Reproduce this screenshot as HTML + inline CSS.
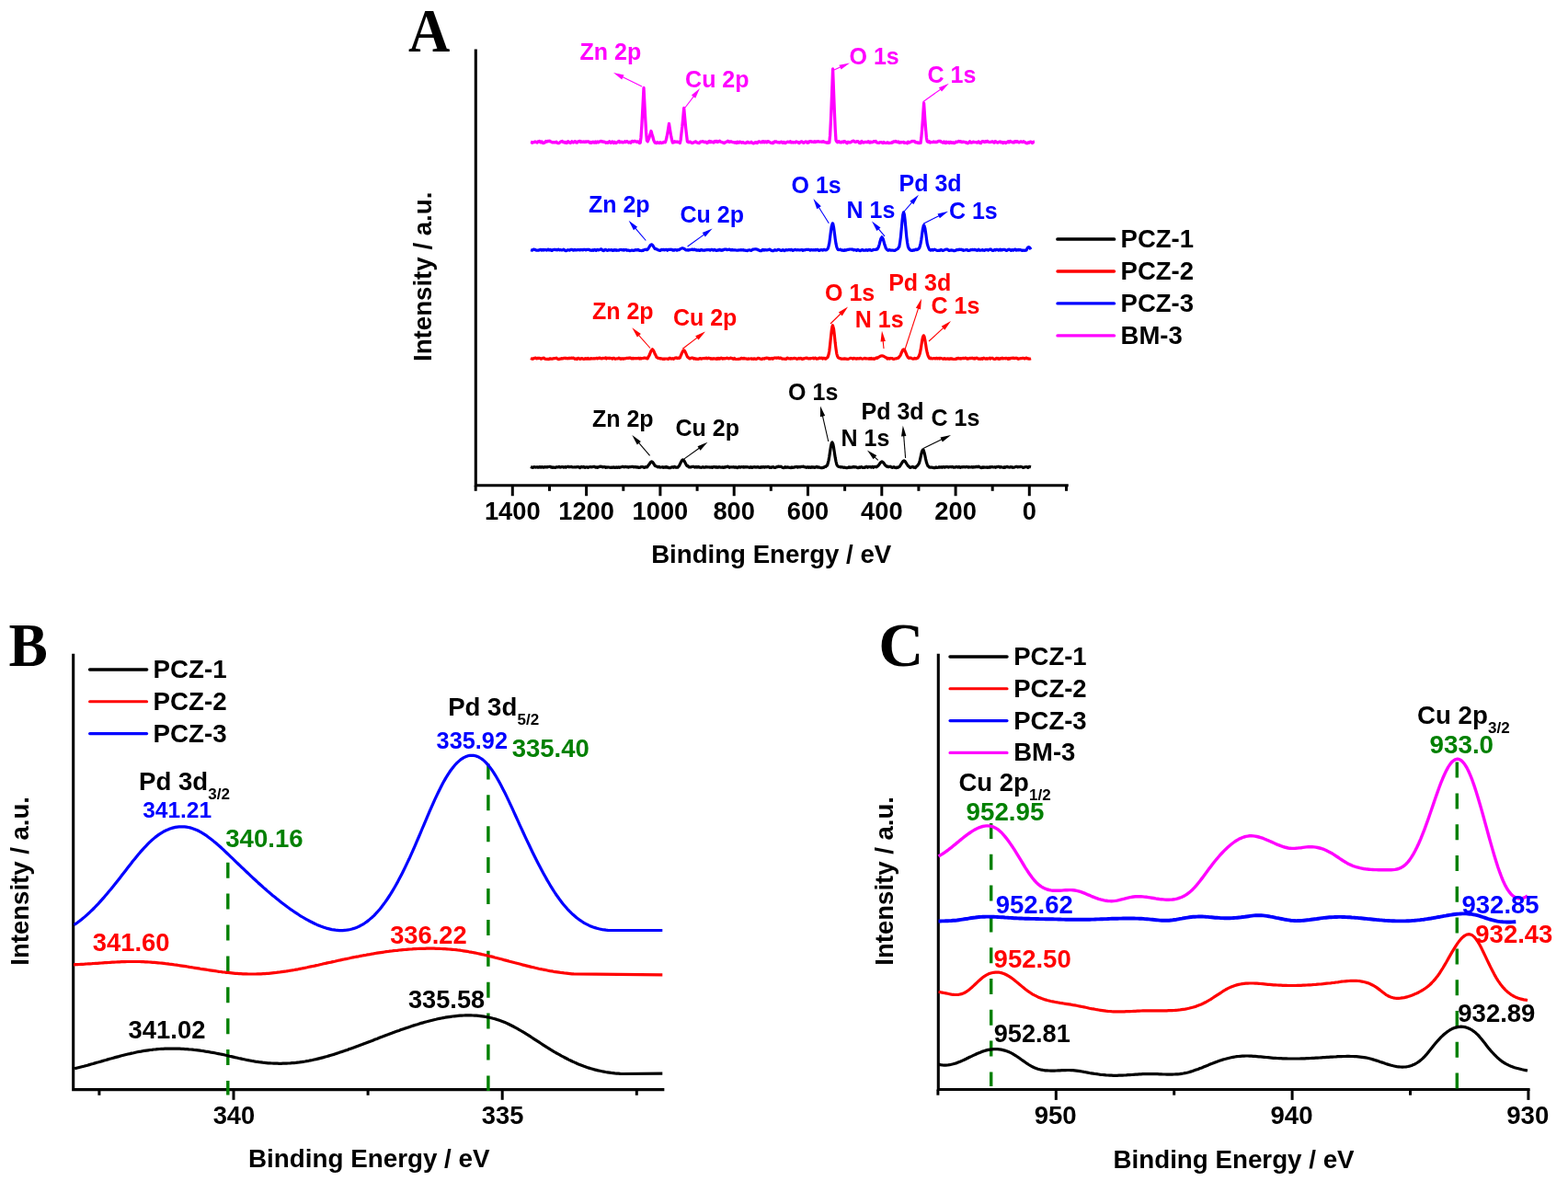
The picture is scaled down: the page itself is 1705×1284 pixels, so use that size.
<!DOCTYPE html>
<html lang="en">
<head>
<meta charset="utf-8">
<title>XPS spectra of PCZ-1, PCZ-2, PCZ-3 and BM-3</title>
<style>
html,body{margin:0;padding:0;background:#fff;}
body{width:1705px;height:1284px;overflow:hidden;}
svg{display:block;}
svg text{font-family:"Liberation Sans", sans-serif;font-weight:bold;}
svg text.panel{font-family:"Liberation Serif", serif;font-weight:bold;}
</style>
</head>
<body>
<svg width="1705" height="1284" viewBox="0 0 1705 1284">
<rect x="0" y="0" width="1705" height="1284" fill="#ffffff"/>
<g id="panelA">
<text class="panel" transform="translate(444.0 56.2) scale(0.93 1.0)" font-size="67.5">A</text>
<path d="M517.3,55V527.8H1160.2" fill="none" stroke="#000" stroke-width="3.1" stroke-linecap="square"/>
<line x1="517.2" y1="527.8" x2="517.2" y2="533.8" stroke="#000" stroke-width="3"/>
<line x1="557.3" y1="527.8" x2="557.3" y2="539.2" stroke="#000" stroke-width="3"/>
<text x="557.3" y="565.3" font-size="27.3" fill="#000" text-anchor="middle">1400</text>
<line x1="597.5" y1="527.8" x2="597.5" y2="533.8" stroke="#000" stroke-width="3"/>
<line x1="637.6" y1="527.8" x2="637.6" y2="539.2" stroke="#000" stroke-width="3"/>
<text x="637.6" y="565.3" font-size="27.3" fill="#000" text-anchor="middle">1200</text>
<line x1="677.8" y1="527.8" x2="677.8" y2="533.8" stroke="#000" stroke-width="3"/>
<line x1="717.9" y1="527.8" x2="717.9" y2="539.2" stroke="#000" stroke-width="3"/>
<text x="717.9" y="565.3" font-size="27.3" fill="#000" text-anchor="middle">1000</text>
<line x1="758.1" y1="527.8" x2="758.1" y2="533.8" stroke="#000" stroke-width="3"/>
<line x1="798.2" y1="527.8" x2="798.2" y2="539.2" stroke="#000" stroke-width="3"/>
<text x="798.2" y="565.3" font-size="27.3" fill="#000" text-anchor="middle">800</text>
<line x1="838.3" y1="527.8" x2="838.3" y2="533.8" stroke="#000" stroke-width="3"/>
<line x1="878.5" y1="527.8" x2="878.5" y2="539.2" stroke="#000" stroke-width="3"/>
<text x="878.5" y="565.3" font-size="27.3" fill="#000" text-anchor="middle">600</text>
<line x1="918.6" y1="527.8" x2="918.6" y2="533.8" stroke="#000" stroke-width="3"/>
<line x1="958.8" y1="527.8" x2="958.8" y2="539.2" stroke="#000" stroke-width="3"/>
<text x="958.8" y="565.3" font-size="27.3" fill="#000" text-anchor="middle">400</text>
<line x1="998.9" y1="527.8" x2="998.9" y2="533.8" stroke="#000" stroke-width="3"/>
<line x1="1039.1" y1="527.8" x2="1039.1" y2="539.2" stroke="#000" stroke-width="3"/>
<text x="1039.1" y="565.3" font-size="27.3" fill="#000" text-anchor="middle">200</text>
<line x1="1079.2" y1="527.8" x2="1079.2" y2="533.8" stroke="#000" stroke-width="3"/>
<line x1="1119.3" y1="527.8" x2="1119.3" y2="539.2" stroke="#000" stroke-width="3"/>
<text x="1119.3" y="565.3" font-size="27.3" fill="#000" text-anchor="middle">0</text>
<line x1="1159.5" y1="527.8" x2="1159.5" y2="533.8" stroke="#000" stroke-width="3"/>
<text x="838.7" y="612.4" font-size="27.65" fill="#000" text-anchor="middle">Binding Energy / eV</text>
<text transform="translate(469.0 300.8) rotate(-90)" font-size="27.65" fill="#000" text-anchor="middle">Intensity / a.u.</text>
<path d="M577.0,154.4L577.8,154.6L578.6,155.3L579.4,154.8L580.2,154.6L581.0,154.7L581.8,154.0L582.6,154.3L583.4,154.6L584.2,155.1L585.0,154.0L585.8,153.9L586.6,153.5L587.4,154.6L588.2,154.9L589.0,153.9L589.8,155.1L590.6,155.6L591.4,155.3L592.2,155.1L593.0,154.1L593.8,153.5L594.6,154.1L595.4,153.5L596.2,153.5L597.0,153.6L597.8,153.2L598.6,153.9L599.4,154.1L600.2,154.9L601.0,154.7L601.8,154.9L602.6,154.7L603.4,154.9L604.2,154.6L605.0,154.1L605.8,155.2L606.6,155.7L607.4,155.7L608.2,155.4L609.0,154.6L609.8,154.0L610.6,153.9L611.4,153.5L612.2,154.5L613.0,154.3L613.8,155.0L614.6,154.5L615.4,155.3L616.2,155.5L617.0,154.1L617.8,153.8L618.6,154.9L619.4,154.6L620.2,155.4L621.0,154.7L621.8,153.8L622.6,154.4L623.4,155.0L624.2,154.3L625.0,153.7L625.8,153.8L626.6,155.0L627.4,155.2L628.2,154.1L629.0,153.9L629.8,153.5L630.6,153.3L631.4,154.5L632.2,153.9L633.0,154.3L633.8,154.3L634.6,153.9L635.4,154.6L636.2,153.9L637.0,154.5L637.8,153.8L638.6,154.0L639.4,153.8L640.2,153.8L641.0,155.0L641.8,155.3L642.6,154.5L643.4,155.2L644.2,154.3L645.0,154.2L645.8,155.0L646.6,155.0L647.4,154.0L648.2,155.2L649.0,154.3L649.8,154.0L650.6,154.8L651.4,154.3L652.2,154.0L653.0,153.5L653.8,153.3L654.6,154.1L655.4,153.9L656.2,154.4L657.0,154.2L657.8,154.3L658.6,155.2L659.4,154.8L660.2,154.8L661.0,155.3L661.8,154.3L662.6,153.8L663.4,154.9L664.2,155.3L665.0,154.4L665.8,153.9L666.6,154.7L667.4,155.4L668.2,154.3L669.0,155.2L669.8,155.5L670.6,155.1L671.4,154.6L672.2,153.9L673.0,153.4L673.8,154.8L674.6,154.2L675.4,154.7L676.2,154.2L677.0,154.9L677.8,154.9L678.6,154.3L679.4,153.8L680.2,154.6L681.0,153.8L681.8,153.7L682.6,154.2L683.4,155.0L684.2,154.9L685.0,154.3L685.8,155.2L686.6,154.3L687.4,153.5L688.2,153.6L689.0,154.0L689.8,153.5L690.6,153.5L691.4,153.8L692.2,154.3L693.0,153.8L693.8,153.9L694.6,154.9L695.4,155.6L696.2,155.3L697.0,149.2L697.8,137.1L698.6,122.8L699.4,107.6L700.0,95.5L701.0,115.4L701.8,130.4L702.6,143.9L703.4,152.8L704.2,153.9L705.0,152.0L705.8,150.2L706.6,147.3L707.4,144.6L708.0,142.5L709.0,146.0L709.8,148.5L710.6,151.8L711.4,153.8L712.2,155.2L713.0,155.4L713.8,155.6L714.6,154.7L715.4,154.9L716.2,155.4L717.0,155.6L717.8,154.8L718.6,155.2L719.4,155.5L720.2,155.1L721.0,155.0L721.8,154.5L722.6,154.7L723.4,154.8L724.2,152.3L725.0,149.3L725.8,145.0L726.6,140.3L727.5,134.5L728.2,139.0L729.0,143.9L729.8,148.7L730.6,152.2L731.4,155.1L732.2,154.0L733.0,154.7L733.8,153.8L734.6,154.4L735.4,154.4L736.2,154.0L737.0,154.6L737.8,154.5L738.6,154.7L739.4,155.4L740.2,151.8L741.0,144.6L741.8,138.0L742.6,129.8L743.7,117.5L744.2,123.2L745.0,131.9L745.8,140.4L746.6,147.3L747.4,153.9L748.2,154.5L749.0,154.8L749.8,154.1L750.6,154.2L751.4,154.9L752.2,155.4L753.0,155.6L753.8,154.8L754.6,154.8L755.4,154.3L756.2,153.8L757.0,154.2L757.8,155.0L758.6,155.3L759.4,155.3L760.2,155.6L761.0,154.6L761.8,154.0L762.6,154.2L763.4,153.9L764.2,153.7L765.0,154.0L765.8,154.5L766.6,154.5L767.4,154.2L768.2,155.0L769.0,155.6L769.8,154.9L770.6,153.9L771.4,153.4L772.2,154.7L773.0,153.8L773.8,154.5L774.6,154.6L775.4,154.2L776.2,154.9L777.0,153.8L777.8,153.5L778.6,154.0L779.4,153.4L780.2,154.6L781.0,154.1L781.8,153.7L782.6,153.3L783.4,154.2L784.2,154.3L785.0,154.6L785.8,154.8L786.6,155.2L787.4,155.6L788.2,155.3L789.0,154.3L789.8,154.4L790.6,153.9L791.4,153.3L792.2,153.9L793.0,154.6L793.8,154.0L794.6,153.9L795.4,153.9L796.2,154.6L797.0,154.6L797.8,154.7L798.6,155.1L799.4,154.6L800.2,155.1L801.0,155.5L801.8,154.2L802.6,155.1L803.4,155.2L804.2,154.1L805.0,154.3L805.8,154.6L806.6,155.3L807.4,154.6L808.2,154.7L809.0,155.3L809.8,155.4L810.6,155.7L811.4,155.0L812.2,155.0L813.0,154.2L813.8,154.8L814.6,155.2L815.4,155.1L816.2,155.1L817.0,154.3L817.8,155.1L818.6,155.6L819.4,155.9L820.2,155.2L821.0,155.3L821.8,154.6L822.6,155.3L823.4,155.5L824.2,154.7L825.0,153.8L825.8,154.1L826.6,154.4L827.4,154.9L828.2,154.7L829.0,153.7L829.8,154.7L830.6,153.8L831.4,154.7L832.2,154.0L833.0,154.0L833.8,154.8L834.6,154.0L835.4,153.6L836.2,154.1L837.0,154.7L837.8,155.2L838.6,155.2L839.4,155.6L840.2,155.0L841.0,155.5L841.8,154.2L842.6,153.9L843.4,154.3L844.2,154.0L845.0,154.7L845.8,154.8L846.6,154.7L847.4,155.2L848.2,154.9L849.0,154.4L849.8,154.2L850.6,155.0L851.4,155.4L852.2,154.4L853.0,155.1L853.8,155.6L854.6,155.0L855.4,154.9L856.2,154.1L857.0,154.4L857.8,154.5L858.6,154.7L859.4,153.7L860.2,155.0L861.0,154.8L861.8,154.4L862.6,155.0L863.4,154.8L864.2,154.6L865.0,154.9L865.8,153.9L866.6,154.3L867.4,154.3L868.2,155.2L869.0,155.6L869.8,154.6L870.6,154.5L871.4,153.8L872.2,154.1L873.0,154.9L873.8,155.4L874.6,154.9L875.4,154.3L876.2,153.9L877.0,154.4L877.8,155.2L878.6,154.2L879.4,154.9L880.2,153.8L881.0,153.6L881.8,153.6L882.6,154.4L883.4,154.2L884.2,154.1L885.0,154.5L885.8,153.8L886.6,154.6L887.4,153.9L888.2,154.2L889.0,153.9L889.8,153.7L890.6,154.2L891.4,154.2L892.2,154.2L893.0,154.2L893.8,154.4L894.6,153.8L895.4,153.7L896.2,154.4L897.0,154.7L897.8,154.6L898.6,155.2L899.4,155.0L900.2,155.4L901.0,154.4L901.8,154.9L902.6,147.2L903.4,131.5L904.2,111.8L905.0,91.3L905.6,75.0L906.6,101.8L907.4,122.2L908.2,140.0L909.0,152.5L909.8,153.9L910.6,154.7L911.4,154.1L912.2,153.6L913.0,154.7L913.8,154.4L914.6,155.0L915.4,154.1L916.2,154.1L917.0,154.7L917.8,153.7L918.6,153.6L919.4,154.4L920.2,155.2L921.0,155.7L921.8,154.3L922.6,154.4L923.4,154.9L924.2,154.7L925.0,154.9L925.8,154.1L926.6,153.6L927.4,153.4L928.2,153.2L929.0,154.0L929.8,154.3L930.6,154.5L931.4,153.9L932.2,153.7L933.0,153.6L933.8,154.7L934.6,155.5L935.4,155.7L936.2,154.3L937.0,153.6L937.8,154.9L938.6,154.6L939.4,155.0L940.2,154.4L941.0,154.4L941.8,154.5L942.6,154.4L943.4,154.6L944.2,153.7L945.0,154.5L945.8,155.1L946.6,154.2L947.4,154.3L948.2,154.8L949.0,154.5L949.8,153.9L950.6,153.6L951.4,154.1L952.2,153.5L953.0,154.7L953.8,155.2L954.6,155.2L955.4,155.4L956.2,155.2L957.0,154.6L957.8,154.7L958.6,154.6L959.4,155.4L960.2,155.5L961.0,154.5L961.8,155.2L962.6,155.3L963.4,155.3L964.2,155.4L965.0,154.8L965.8,155.3L966.6,155.6L967.4,155.3L968.2,155.4L969.0,155.4L969.8,154.7L970.6,155.0L971.4,154.0L972.2,154.0L973.0,154.2L973.8,153.5L974.6,153.8L975.4,154.4L976.2,154.7L977.0,154.1L977.8,155.1L978.6,155.1L979.4,154.5L980.2,154.8L981.0,154.7L981.8,154.7L982.6,154.4L983.4,155.3L984.2,155.1L985.0,155.1L985.8,155.3L986.6,155.7L987.4,154.2L988.2,154.6L989.0,155.0L989.8,154.3L990.6,154.2L991.4,153.6L992.2,153.5L993.0,153.8L993.8,153.5L994.6,153.6L995.4,154.8L996.2,154.7L997.0,154.6L997.8,155.4L998.6,155.0L999.4,155.6L1000.2,155.3L1001.0,155.4L1001.8,149.6L1002.6,140.8L1003.4,130.0L1004.6,112.0L1005.8,130.0L1006.6,140.4L1007.4,149.7L1008.2,153.8L1009.0,154.2L1009.8,154.6L1010.6,153.7L1011.4,155.0L1012.2,154.6L1013.0,154.6L1013.8,154.7L1014.6,154.4L1015.4,154.0L1016.2,154.6L1017.0,154.6L1017.8,154.2L1018.6,154.7L1019.4,154.2L1020.2,153.5L1021.0,153.6L1021.8,153.3L1022.6,153.3L1023.4,154.4L1024.2,154.3L1025.0,155.1L1025.8,155.2L1026.6,154.0L1027.4,155.2L1028.2,155.6L1029.0,154.2L1029.8,155.1L1030.6,154.6L1031.4,154.5L1032.2,155.4L1033.0,154.4L1033.8,154.5L1034.6,155.3L1035.4,155.3L1036.2,154.8L1037.0,155.5L1037.8,155.5L1038.6,155.1L1039.4,154.1L1040.2,154.5L1041.0,154.4L1041.8,153.9L1042.6,153.4L1043.4,154.1L1044.2,153.6L1045.0,154.0L1045.8,154.6L1046.6,154.5L1047.4,154.1L1048.2,154.4L1049.0,154.3L1049.8,154.9L1050.6,154.7L1051.4,155.5L1052.2,155.8L1053.0,155.5L1053.8,154.5L1054.6,153.8L1055.4,154.9L1056.2,155.2L1057.0,155.0L1057.8,154.5L1058.6,154.1L1059.4,154.6L1060.2,154.7L1061.0,154.7L1061.8,154.9L1062.6,155.1L1063.4,154.2L1064.2,153.9L1065.0,155.1L1065.8,155.5L1066.6,155.6L1067.4,154.2L1068.2,153.6L1069.0,153.7L1069.8,154.0L1070.6,154.5L1071.4,153.8L1072.2,154.3L1073.0,153.6L1073.8,153.4L1074.6,154.3L1075.4,154.5L1076.2,154.7L1077.0,154.4L1077.8,154.4L1078.6,153.9L1079.4,154.0L1080.2,154.7L1081.0,155.2L1081.8,154.0L1082.6,153.6L1083.4,154.7L1084.2,154.8L1085.0,155.1L1085.8,154.3L1086.6,154.3L1087.4,154.0L1088.2,154.8L1089.0,154.4L1089.8,154.7L1090.6,155.5L1091.4,154.6L1092.2,154.6L1093.0,155.0L1093.8,155.5L1094.6,154.8L1095.4,154.4L1096.2,153.7L1097.0,154.8L1097.8,153.9L1098.6,153.5L1099.4,154.2L1100.2,154.3L1101.0,154.8L1101.8,154.3L1102.6,154.9L1103.4,153.9L1104.2,153.7L1105.0,154.4L1105.8,153.7L1106.6,153.8L1107.4,154.6L1108.2,154.9L1109.0,154.3L1109.8,153.8L1110.6,153.9L1111.4,154.6L1112.2,154.3L1113.0,153.7L1113.8,154.5L1114.6,154.6L1115.4,155.3L1116.2,155.7L1117.0,155.8L1117.8,155.0L1118.6,155.3L1119.4,154.5L1120.2,154.2L1121.0,154.2L1121.8,155.1L1122.6,155.5L1123.4,154.5L1124.2,154.2L1125.0,154.1" fill="none" stroke="#ff00ff" stroke-width="3.3" stroke-linejoin="round" stroke-linecap="butt"/>
<path d="M577.0,271.8L577.8,272.0L578.6,272.1L579.4,271.5L580.2,271.1L581.0,271.3L581.8,271.3L582.6,272.0L583.4,272.1L584.2,272.1L585.0,272.0L585.8,272.1L586.6,271.5L587.4,271.6L588.2,271.3L589.0,272.1L589.8,271.4L590.6,272.0L591.4,271.4L592.2,271.8L593.0,271.6L593.8,271.6L594.6,272.1L595.4,271.4L596.2,271.1L597.0,272.0L597.8,271.9L598.6,271.3L599.4,272.2L600.2,272.5L601.0,271.7L601.8,271.6L602.6,271.3L603.4,271.3L604.2,271.7L605.0,271.4L605.8,271.8L606.6,271.3L607.4,271.2L608.2,271.9L609.0,271.7L609.8,271.7L610.6,271.9L611.4,271.8L612.2,271.7L613.0,271.2L613.8,271.8L614.6,272.4L615.4,272.6L616.2,272.4L617.0,271.9L617.8,271.7L618.6,272.0L619.4,272.1L620.2,271.5L621.0,271.3L621.8,271.4L622.6,271.6L623.4,272.1L624.2,271.9L625.0,271.3L625.8,272.0L626.6,271.8L627.4,271.8L628.2,271.5L629.0,271.6L629.8,271.6L630.6,272.0L631.4,271.4L632.2,271.7L633.0,271.4L633.8,271.8L634.6,271.3L635.4,271.3L636.2,271.4L637.0,271.8L637.8,271.3L638.6,271.5L639.4,271.3L640.2,271.3L641.0,271.6L641.8,272.2L642.6,272.0L643.4,272.4L644.2,271.7L645.0,272.3L645.8,271.8L646.6,271.4L647.4,271.9L648.2,272.4L649.0,271.5L649.8,271.4L650.6,271.9L651.4,271.7L652.2,271.4L653.0,271.0L653.8,270.9L654.6,271.5L655.4,272.3L656.2,272.6L657.0,272.2L657.8,271.4L658.6,271.4L659.4,272.0L660.2,272.3L661.0,272.2L661.8,271.6L662.6,271.8L663.4,271.8L664.2,271.9L665.0,271.6L665.8,272.2L666.6,272.5L667.4,271.7L668.2,271.5L669.0,272.1L669.8,271.7L670.6,272.3L671.4,272.0L672.2,272.1L673.0,272.2L673.8,271.6L674.6,271.5L675.4,271.4L676.2,271.8L677.0,272.0L677.8,271.5L678.6,272.1L679.4,271.8L680.2,271.5L681.0,271.6L681.8,272.3L682.6,272.1L683.4,272.1L684.2,272.4L685.0,272.6L685.8,272.5L686.6,272.0L687.4,272.0L688.2,272.4L689.0,272.4L689.8,272.2L690.6,271.8L691.4,271.6L692.2,272.0L693.0,272.0L693.8,271.3L694.6,271.8L695.4,272.3L696.2,272.4L697.0,272.5L697.8,272.6L698.6,272.2L699.4,272.3L700.2,271.9L701.0,271.3L701.8,271.4L702.6,271.2L703.4,271.7L704.2,271.2L705.0,270.2L705.8,268.8L706.6,267.5L707.4,266.4L708.4,265.8L709.0,266.0L709.8,266.9L710.6,268.2L711.4,269.4L712.2,270.5L713.0,270.7L713.8,270.8L714.6,271.2L715.4,271.8L716.2,272.1L717.0,272.1L717.8,272.5L718.6,271.9L719.4,271.3L720.2,271.6L721.0,271.6L721.8,271.3L722.6,271.8L723.4,271.6L724.2,271.4L725.0,271.4L725.8,272.2L726.6,271.4L727.4,271.4L728.2,271.4L729.0,271.2L729.8,271.5L730.6,271.3L731.4,272.1L732.2,271.9L733.0,272.1L733.8,271.5L734.6,271.6L735.4,271.8L736.2,272.2L737.0,271.6L737.8,271.5L738.6,271.7L739.4,270.9L740.2,270.5L741.0,270.0L742.0,269.8L742.6,269.9L743.4,270.2L744.2,270.7L745.0,271.2L745.8,271.9L746.6,272.0L747.4,271.7L748.2,272.1L749.0,271.7L749.8,271.8L750.6,271.6L751.4,271.5L752.2,271.2L753.0,271.2L753.8,271.6L754.6,271.4L755.4,271.1L756.2,271.8L757.0,271.6L757.8,272.2L758.6,272.1L759.4,271.8L760.2,272.2L761.0,272.5L761.8,271.9L762.6,271.4L763.4,271.8L764.2,272.2L765.0,272.1L765.8,272.3L766.6,271.9L767.4,272.0L768.2,271.6L769.0,271.6L769.8,271.6L770.6,271.6L771.4,271.6L772.2,272.1L773.0,271.5L773.8,271.3L774.6,271.3L775.4,272.1L776.2,272.0L777.0,271.3L777.8,272.0L778.6,272.3L779.4,272.4L780.2,271.9L781.0,272.1L781.8,271.7L782.6,271.3L783.4,272.0L784.2,272.3L785.0,271.7L785.8,272.2L786.6,271.4L787.4,271.4L788.2,271.0L789.0,271.1L789.8,271.1L790.6,271.7L791.4,271.5L792.2,271.3L793.0,271.2L793.8,271.3L794.6,272.0L795.4,272.0L796.2,271.4L797.0,271.9L797.8,271.9L798.6,271.8L799.4,271.8L800.2,272.0L801.0,272.2L801.8,272.0L802.6,272.1L803.4,271.9L804.2,272.0L805.0,271.8L805.8,271.7L806.6,271.8L807.4,272.0L808.2,271.6L809.0,272.2L809.8,272.0L810.6,272.3L811.4,272.3L812.2,272.6L813.0,272.4L813.8,272.0L814.6,271.8L815.4,271.9L816.2,272.2L817.0,272.4L817.8,271.6L818.6,271.2L819.4,271.1L820.2,271.0L821.0,270.9L821.8,270.8L822.6,271.1L823.4,271.0L824.2,271.7L825.0,271.9L825.8,272.4L826.6,272.6L827.4,272.5L828.2,272.6L829.0,271.6L829.8,271.4L830.6,272.1L831.4,271.9L832.2,271.5L833.0,272.0L833.8,271.8L834.6,271.8L835.4,271.6L836.2,271.4L837.0,271.1L837.8,271.6L838.6,272.3L839.4,272.6L840.2,272.5L841.0,272.6L841.8,272.0L842.6,271.7L843.4,272.2L844.2,272.1L845.0,272.1L845.8,271.4L846.6,271.3L847.4,271.5L848.2,272.0L849.0,272.3L849.8,272.3L850.6,271.8L851.4,271.7L852.2,272.2L853.0,272.6L853.8,272.1L854.6,271.6L855.4,271.8L856.2,271.9L857.0,271.7L857.8,271.4L858.6,271.5L859.4,271.8L860.2,271.3L861.0,271.6L861.8,272.3L862.6,272.3L863.4,271.7L864.2,271.7L865.0,271.3L865.8,271.8L866.6,272.0L867.4,271.5L868.2,271.7L869.0,271.9L869.8,271.9L870.6,271.7L871.4,271.5L872.2,271.5L873.0,272.3L873.8,271.8L874.6,271.8L875.4,271.8L876.2,271.4L877.0,271.5L877.8,271.3L878.6,271.4L879.4,271.4L880.2,271.5L881.0,272.2L881.8,271.7L882.6,271.6L883.4,271.9L884.2,271.7L885.0,271.8L885.8,272.0L886.6,271.4L887.4,271.8L888.2,271.3L889.0,271.3L889.8,271.9L890.6,272.5L891.4,272.3L892.2,271.6L893.0,271.7L893.8,271.5L894.6,272.1L895.4,271.6L896.2,271.3L897.0,271.7L897.8,271.9L898.6,271.7L899.4,271.1L900.2,270.4L901.0,267.7L901.8,264.2L902.6,258.1L903.4,251.8L904.2,246.2L905.3,242.8L905.8,243.5L906.6,247.4L907.4,253.4L908.2,259.6L909.0,264.9L909.8,268.5L910.6,270.5L911.4,271.5L912.2,271.6L913.0,271.5L913.8,271.1L914.6,272.0L915.4,272.2L916.2,271.9L917.0,272.4L917.8,272.5L918.6,271.7L919.4,272.2L920.2,271.9L921.0,271.6L921.8,271.4L922.6,271.5L923.4,271.1L924.2,271.0L925.0,271.0L925.8,271.2L926.6,271.1L927.4,271.0L928.2,271.9L929.0,271.7L929.8,271.7L930.6,271.9L931.4,272.4L932.2,271.6L933.0,271.4L933.8,272.1L934.6,272.4L935.4,272.6L936.2,272.2L937.0,271.8L937.8,271.4L938.6,272.1L939.4,272.3L940.2,272.1L941.0,272.3L941.8,271.7L942.6,271.8L943.4,272.3L944.2,271.6L945.0,271.8L945.8,271.4L946.6,272.0L947.4,272.3L948.2,272.2L949.0,271.9L949.8,271.3L950.6,271.5L951.4,271.5L952.2,271.4L953.0,270.8L953.8,271.2L954.6,270.0L955.4,268.3L956.2,265.6L957.0,262.5L957.8,259.7L959.0,257.8L960.2,259.7L961.0,262.5L961.8,265.6L962.6,267.8L963.4,270.1L964.2,271.1L965.0,271.7L965.8,272.4L966.6,271.7L967.4,271.7L968.2,272.1L969.0,272.2L969.8,272.0L970.6,272.2L971.4,272.2L972.2,272.4L973.0,272.3L973.8,271.8L974.6,271.5L975.4,271.0L976.2,270.5L977.0,269.3L977.8,268.2L978.6,263.6L979.4,257.6L980.2,249.2L981.0,240.3L981.8,233.4L982.6,230.8L983.4,233.4L984.2,240.3L985.0,249.2L985.8,257.6L986.6,263.8L987.4,268.2L988.2,270.0L989.0,271.2L989.8,271.8L990.6,272.2L991.4,272.4L992.2,272.4L993.0,271.8L993.8,272.1L994.6,271.9L995.4,271.4L996.2,271.0L997.0,271.6L997.8,271.3L998.6,270.6L999.4,270.0L1000.2,268.2L1001.0,264.9L1001.8,260.5L1002.6,254.7L1003.4,249.1L1004.2,245.5L1004.7,244.8L1005.8,248.0L1006.6,253.2L1007.4,259.1L1008.2,264.7L1009.0,267.5L1009.8,269.6L1010.6,271.4L1011.4,271.9L1012.2,272.1L1013.0,271.6L1013.8,271.3L1014.6,272.1L1015.4,271.4L1016.2,271.2L1017.0,271.5L1017.8,272.0L1018.6,272.1L1019.4,272.5L1020.2,272.5L1021.0,272.0L1021.8,272.4L1022.6,271.8L1023.4,271.3L1024.2,272.1L1025.0,272.4L1025.8,272.3L1026.6,272.0L1027.4,271.5L1028.2,271.3L1029.0,271.1L1029.8,271.0L1030.6,271.4L1031.4,272.1L1032.2,272.5L1033.0,272.1L1033.8,272.1L1034.6,271.9L1035.4,272.2L1036.2,272.2L1037.0,272.6L1037.8,272.6L1038.6,272.4L1039.4,272.2L1040.2,271.6L1041.0,271.7L1041.8,271.7L1042.6,271.3L1043.4,271.2L1044.2,271.4L1045.0,271.2L1045.8,271.7L1046.6,271.5L1047.4,272.3L1048.2,272.2L1049.0,272.0L1049.8,271.8L1050.6,271.7L1051.4,271.4L1052.2,272.2L1053.0,272.5L1053.8,272.3L1054.6,272.2L1055.4,271.6L1056.2,271.7L1057.0,271.4L1057.8,271.4L1058.6,271.7L1059.4,271.4L1060.2,271.3L1061.0,271.8L1061.8,271.8L1062.6,272.3L1063.4,271.6L1064.2,271.2L1065.0,272.1L1065.8,272.0L1066.6,272.1L1067.4,272.0L1068.2,271.5L1069.0,272.2L1069.8,272.0L1070.6,272.4L1071.4,271.6L1072.2,271.5L1073.0,271.7L1073.8,271.5L1074.6,272.1L1075.4,271.6L1076.2,271.2L1077.0,271.1L1077.8,271.2L1078.6,272.1L1079.4,272.4L1080.2,272.3L1081.0,271.9L1081.8,271.3L1082.6,272.0L1083.4,271.4L1084.2,271.3L1085.0,271.5L1085.8,272.1L1086.6,271.6L1087.4,271.2L1088.2,272.0L1089.0,271.3L1089.8,271.9L1090.6,271.4L1091.4,271.4L1092.2,271.3L1093.0,271.5L1093.8,272.2L1094.6,272.4L1095.4,272.1L1096.2,271.4L1097.0,271.2L1097.8,271.3L1098.6,271.9L1099.4,272.4L1100.2,271.5L1101.0,271.5L1101.8,272.2L1102.6,271.6L1103.4,271.2L1104.2,271.2L1105.0,272.0L1105.8,271.6L1106.6,272.0L1107.4,271.4L1108.2,271.8L1109.0,271.4L1109.8,271.7L1110.6,272.1L1111.4,272.4L1112.2,272.0L1113.0,272.5L1113.8,272.0L1114.6,272.3L1115.4,272.2L1116.2,271.9L1117.0,270.0L1117.8,269.0L1118.6,268.6L1119.4,269.0L1120.2,270.0L1121.0,271.2" fill="none" stroke="#0000ff" stroke-width="3.2" stroke-linejoin="round" stroke-linecap="butt"/>
<path d="M577.0,389.5L577.8,389.9L578.6,390.1L579.4,390.3L580.2,389.7L581.0,389.4L581.8,389.2L582.6,389.2L583.4,389.8L584.2,389.4L585.0,389.6L585.8,389.4L586.6,389.4L587.4,389.5L588.2,390.1L589.0,390.1L589.8,389.3L590.6,389.3L591.4,389.2L592.2,390.0L593.0,390.2L593.8,390.4L594.6,390.4L595.4,390.4L596.2,390.6L597.0,390.5L597.8,389.8L598.6,390.2L599.4,390.0L600.2,390.2L601.0,390.1L601.8,389.8L602.6,389.6L603.4,389.6L604.2,389.5L605.0,389.2L605.8,389.9L606.6,390.2L607.4,390.6L608.2,390.4L609.0,390.1L609.8,390.2L610.6,389.6L611.4,389.9L612.2,389.8L613.0,389.4L613.8,389.3L614.6,389.6L615.4,389.4L616.2,389.6L617.0,389.8L617.8,389.7L618.6,389.3L619.4,389.6L620.2,389.4L621.0,389.3L621.8,389.2L622.6,389.4L623.4,389.1L624.2,389.7L625.0,390.3L625.8,389.9L626.6,390.1L627.4,390.5L628.2,389.5L629.0,389.3L629.8,389.9L630.6,390.3L631.4,390.2L632.2,389.6L633.0,389.6L633.8,390.1L634.6,390.4L635.4,390.4L636.2,389.7L637.0,390.2L637.8,389.8L638.6,390.1L639.4,389.5L640.2,390.2L641.0,390.1L641.8,390.2L642.6,389.6L643.4,389.9L644.2,389.9L645.0,390.0L645.8,389.7L646.6,390.0L647.4,389.7L648.2,389.5L649.0,389.3L649.8,389.8L650.6,389.3L651.4,389.3L652.2,389.0L653.0,389.6L653.8,389.8L654.6,389.8L655.4,389.3L656.2,389.5L657.0,389.5L657.8,389.2L658.6,388.9L659.4,390.0L660.2,389.4L661.0,389.4L661.8,389.3L662.6,389.7L663.4,389.3L664.2,389.5L665.0,389.5L665.8,390.1L666.6,389.3L667.4,389.4L668.2,389.6L669.0,390.3L669.8,390.0L670.6,389.9L671.4,390.0L672.2,389.7L673.0,389.2L673.8,389.5L674.6,390.2L675.4,390.3L676.2,389.7L677.0,390.0L677.8,390.3L678.6,389.7L679.4,389.9L680.2,389.7L681.0,389.4L681.8,389.4L682.6,389.3L683.4,389.4L684.2,389.1L685.0,389.3L685.8,389.1L686.6,389.8L687.4,389.9L688.2,389.3L689.0,389.9L689.8,389.5L690.6,389.6L691.4,389.8L692.2,389.6L693.0,389.5L693.8,389.6L694.6,389.3L695.4,390.0L696.2,389.4L697.0,390.0L697.8,389.6L698.6,389.5L699.4,389.5L700.2,389.1L701.0,389.0L701.8,389.3L702.6,389.4L703.4,389.8L704.2,389.8L705.0,388.0L705.8,386.8L706.6,385.0L707.4,382.9L708.2,381.1L709.4,379.8L710.6,381.1L711.4,382.9L712.2,385.0L713.0,386.2L713.8,388.3L714.6,388.7L715.4,389.3L716.2,389.4L717.0,389.5L717.8,390.0L718.6,389.6L719.4,390.0L720.2,390.1L721.0,390.4L721.8,390.1L722.6,390.4L723.4,390.0L724.2,390.0L725.0,390.0L725.8,390.3L726.6,390.5L727.4,389.7L728.2,389.3L729.0,389.6L729.8,390.1L730.6,390.0L731.4,389.6L732.2,390.3L733.0,389.8L733.8,389.3L734.6,389.0L735.4,388.9L736.2,389.6L737.0,389.1L737.8,389.4L738.6,389.4L739.4,388.9L740.2,386.8L741.0,385.0L741.8,383.2L742.6,381.6L743.6,380.8L744.2,381.1L745.0,382.3L745.8,384.1L746.6,386.0L747.4,387.9L748.2,388.7L749.0,389.0L749.8,389.8L750.6,389.8L751.4,389.2L752.2,389.0L753.0,389.1L753.8,389.3L754.6,390.1L755.4,389.6L756.2,390.1L757.0,390.4L757.8,390.0L758.6,390.5L759.4,390.4L760.2,390.1L761.0,389.6L761.8,389.7L762.6,390.2L763.4,390.0L764.2,389.5L765.0,389.5L765.8,389.7L766.6,389.4L767.4,389.7L768.2,389.2L769.0,389.9L769.8,389.5L770.6,389.2L771.4,389.6L772.2,389.5L773.0,390.1L773.8,389.9L774.6,389.9L775.4,390.2L776.2,389.7L777.0,390.0L777.8,390.1L778.6,389.8L779.4,390.4L780.2,389.5L781.0,390.1L781.8,389.5L782.6,390.1L783.4,389.5L784.2,389.1L785.0,389.5L785.8,390.2L786.6,389.7L787.4,389.7L788.2,389.9L789.0,389.5L789.8,389.7L790.6,389.2L791.4,389.5L792.2,390.0L793.0,389.7L793.8,389.4L794.6,389.1L795.4,389.7L796.2,389.7L797.0,390.2L797.8,390.3L798.6,389.5L799.4,390.2L800.2,390.5L801.0,390.5L801.8,390.5L802.6,390.3L803.4,390.3L804.2,390.2L805.0,390.1L805.8,389.6L806.6,389.3L807.4,389.8L808.2,389.9L809.0,389.3L809.8,389.8L810.6,389.9L811.4,389.9L812.2,390.2L813.0,390.4L813.8,389.9L814.6,390.2L815.4,390.0L816.2,390.0L817.0,389.8L817.8,390.3L818.6,390.0L819.4,390.4L820.2,389.9L821.0,390.0L821.8,390.4L822.6,390.3L823.4,389.9L824.2,389.3L825.0,389.6L825.8,389.6L826.6,390.1L827.4,390.3L828.2,390.6L829.0,390.1L829.8,389.8L830.6,389.9L831.4,390.1L832.2,389.4L833.0,389.3L833.8,389.2L834.6,389.3L835.4,389.3L836.2,390.2L837.0,389.6L837.8,390.2L838.6,389.7L839.4,389.4L840.2,390.2L841.0,389.5L841.8,389.2L842.6,389.1L843.4,389.0L844.2,389.3L845.0,389.2L845.8,389.1L846.6,388.9L847.4,389.6L848.2,389.2L849.0,389.2L849.8,389.6L850.6,390.2L851.4,390.2L852.2,390.2L853.0,390.2L853.8,390.3L854.6,390.5L855.4,389.7L856.2,389.2L857.0,389.7L857.8,389.8L858.6,389.8L859.4,390.1L860.2,389.6L861.0,389.9L861.8,389.8L862.6,389.7L863.4,389.4L864.2,389.4L865.0,389.7L865.8,389.8L866.6,390.3L867.4,389.8L868.2,390.0L869.0,389.4L869.8,389.8L870.6,389.4L871.4,390.0L872.2,390.5L873.0,389.8L873.8,390.2L874.6,389.6L875.4,389.5L876.2,389.2L877.0,389.5L877.8,389.2L878.6,389.8L879.4,389.9L880.2,389.7L881.0,390.0L881.8,389.6L882.6,389.5L883.4,389.5L884.2,389.1L885.0,389.9L885.8,389.4L886.6,389.1L887.4,389.9L888.2,390.2L889.0,389.9L889.8,389.8L890.6,389.3L891.4,389.0L892.2,389.5L893.0,389.3L893.8,389.2L894.6,390.0L895.4,389.3L896.2,389.4L897.0,389.9L897.8,390.1L898.6,389.2L899.4,389.2L900.2,388.0L901.0,385.6L901.8,381.7L902.6,374.7L903.4,367.0L904.2,359.6L905.0,354.7L905.5,353.8L906.6,358.0L907.4,365.0L908.2,372.8L909.0,379.1L909.8,384.6L910.6,387.2L911.4,388.7L912.2,389.1L913.0,389.6L913.8,389.6L914.6,390.1L915.4,390.1L916.2,390.0L917.0,390.2L917.8,389.9L918.6,389.9L919.4,390.1L920.2,390.2L921.0,390.3L921.8,390.5L922.6,390.2L923.4,390.0L924.2,389.5L925.0,389.4L925.8,389.5L926.6,389.7L927.4,390.2L928.2,389.4L929.0,389.5L929.8,389.9L930.6,389.8L931.4,390.2L932.2,389.6L933.0,390.0L933.8,389.8L934.6,389.9L935.4,389.3L936.2,389.5L937.0,390.0L937.8,390.2L938.6,390.0L939.4,389.8L940.2,389.3L941.0,389.8L941.8,389.7L942.6,390.0L943.4,390.0L944.2,389.8L945.0,390.2L945.8,389.6L946.6,390.2L947.4,389.5L948.2,390.2L949.0,390.1L949.8,389.8L950.6,390.3L951.4,389.9L952.2,389.7L953.0,388.9L953.8,389.3L954.6,388.8L955.4,388.3L956.2,387.9L957.0,387.4L957.8,387.0L959.0,386.8L960.2,387.0L961.0,387.4L961.8,387.9L962.6,388.3L963.4,388.8L964.2,389.2L965.0,390.0L965.8,389.4L966.6,390.0L967.4,390.1L968.2,389.4L969.0,389.7L969.8,389.5L970.6,389.9L971.4,390.4L972.2,390.3L973.0,390.0L973.8,390.0L974.6,389.6L975.4,389.6L976.2,389.0L977.0,389.2L977.8,387.9L978.6,387.1L979.4,385.7L980.2,383.7L981.0,381.8L981.8,380.3L982.6,379.8L983.4,380.3L984.2,381.8L985.0,383.7L985.8,385.7L986.6,387.2L987.4,388.6L988.2,389.4L989.0,389.2L989.8,389.1L990.6,389.2L991.4,389.6L992.2,390.0L993.0,390.2L993.8,390.0L994.6,389.4L995.4,389.9L996.2,389.8L997.0,389.3L997.8,389.3L998.6,388.3L999.4,386.8L1000.2,384.5L1001.0,380.9L1001.8,376.0L1002.6,370.8L1003.4,366.6L1004.3,364.8L1005.0,365.9L1005.8,369.6L1006.6,374.6L1007.4,379.7L1008.2,383.5L1009.0,386.3L1009.8,388.2L1010.6,389.5L1011.4,389.8L1012.2,389.2L1013.0,389.9L1013.8,390.0L1014.6,389.8L1015.4,389.5L1016.2,389.6L1017.0,389.9L1017.8,389.6L1018.6,389.3L1019.4,390.0L1020.2,389.8L1021.0,389.3L1021.8,390.0L1022.6,389.4L1023.4,389.5L1024.2,389.8L1025.0,390.0L1025.8,390.4L1026.6,389.7L1027.4,389.8L1028.2,390.3L1029.0,390.0L1029.8,390.1L1030.6,389.9L1031.4,390.1L1032.2,390.5L1033.0,389.9L1033.8,390.1L1034.6,389.8L1035.4,390.2L1036.2,390.3L1037.0,390.5L1037.8,390.5L1038.6,390.3L1039.4,390.5L1040.2,389.7L1041.0,389.9L1041.8,389.3L1042.6,389.7L1043.4,390.0L1044.2,389.6L1045.0,390.1L1045.8,389.8L1046.6,389.5L1047.4,389.3L1048.2,389.7L1049.0,389.6L1049.8,389.2L1050.6,389.3L1051.4,390.1L1052.2,389.9L1053.0,390.1L1053.8,389.8L1054.6,389.3L1055.4,389.7L1056.2,389.4L1057.0,389.2L1057.8,389.7L1058.6,389.9L1059.4,389.3L1060.2,390.1L1061.0,389.4L1061.8,389.2L1062.6,389.3L1063.4,389.9L1064.2,390.2L1065.0,390.3L1065.8,389.9L1066.6,390.3L1067.4,389.6L1068.2,390.3L1069.0,389.5L1069.8,389.2L1070.6,389.8L1071.4,390.1L1072.2,390.2L1073.0,389.7L1073.8,390.2L1074.6,390.0L1075.4,389.5L1076.2,389.2L1077.0,390.1L1077.8,389.4L1078.6,389.3L1079.4,389.4L1080.2,390.1L1081.0,390.3L1081.8,390.4L1082.6,390.2L1083.4,389.4L1084.2,389.9L1085.0,389.5L1085.8,390.2L1086.6,390.5L1087.4,389.6L1088.2,390.0L1089.0,389.6L1089.8,389.2L1090.6,390.0L1091.4,389.8L1092.2,389.6L1093.0,389.8L1093.8,389.3L1094.6,389.5L1095.4,389.8L1096.2,390.3L1097.0,389.5L1097.8,390.2L1098.6,389.5L1099.4,389.3L1100.2,389.4L1101.0,389.2L1101.8,389.0L1102.6,389.6L1103.4,389.6L1104.2,389.3L1105.0,389.6L1105.8,389.3L1106.6,389.8L1107.4,390.3L1108.2,390.0L1109.0,389.8L1109.8,389.7L1110.6,389.6L1111.4,389.6L1112.2,389.3L1113.0,389.3L1113.8,389.8L1114.6,389.8L1115.4,389.3L1116.2,389.1L1117.0,389.9L1117.8,389.7L1118.6,390.1L1119.4,390.1L1120.2,390.1L1121.0,389.8" fill="none" stroke="#ff0000" stroke-width="3.2" stroke-linejoin="round" stroke-linecap="butt"/>
<path d="M577.0,507.5L577.8,507.9L578.6,508.1L579.4,508.5L580.2,507.9L581.0,507.6L581.8,508.0L582.6,508.1L583.4,507.8L584.2,508.1L585.0,507.9L585.8,508.2L586.6,507.6L587.4,507.5L588.2,508.1L589.0,507.9L589.8,507.6L590.6,508.1L591.4,508.1L592.2,507.6L593.0,507.8L593.8,508.0L594.6,507.6L595.4,507.9L596.2,507.5L597.0,507.5L597.8,507.3L598.6,507.3L599.4,508.2L600.2,507.9L601.0,508.4L601.8,508.1L602.6,508.1L603.4,508.4L604.2,508.3L605.0,507.7L605.8,507.9L606.6,508.0L607.4,507.6L608.2,507.3L609.0,508.1L609.8,508.0L610.6,507.6L611.4,507.7L612.2,507.5L613.0,508.1L613.8,508.0L614.6,507.5L615.4,508.1L616.2,507.5L617.0,507.5L617.8,507.2L618.6,507.8L619.4,507.5L620.2,507.7L621.0,507.4L621.8,507.6L622.6,508.0L623.4,508.0L624.2,507.9L625.0,507.9L625.8,507.8L626.6,508.0L627.4,507.5L628.2,507.7L629.0,507.5L629.8,508.1L630.6,508.5L631.4,507.7L632.2,507.4L633.0,507.9L633.8,508.0L634.6,507.4L635.4,507.9L636.2,508.4L637.0,508.0L637.8,507.8L638.6,507.9L639.4,508.4L640.2,507.9L641.0,507.7L641.8,507.5L642.6,507.8L643.4,507.8L644.2,507.6L645.0,507.6L645.8,507.3L646.6,507.4L647.4,508.2L648.2,508.1L649.0,507.8L649.8,508.3L650.6,507.9L651.4,507.6L652.2,507.3L653.0,507.2L653.8,507.3L654.6,507.3L655.4,508.0L656.2,507.7L657.0,507.5L657.8,507.9L658.6,508.3L659.4,507.9L660.2,508.2L661.0,507.9L661.8,508.0L662.6,508.0L663.4,508.4L664.2,508.4L665.0,508.1L665.8,508.4L666.6,508.0L667.4,507.8L668.2,508.4L669.0,508.2L669.8,508.3L670.6,507.9L671.4,508.3L672.2,508.2L673.0,507.8L673.8,508.3L674.6,508.1L675.4,507.8L676.2,507.6L677.0,507.3L677.8,507.3L678.6,507.8L679.4,507.5L680.2,507.4L681.0,507.6L681.8,507.8L682.6,507.7L683.4,508.1L684.2,507.7L685.0,507.7L685.8,507.7L686.6,507.4L687.4,507.4L688.2,507.3L689.0,507.9L689.8,507.5L690.6,507.9L691.4,507.6L692.2,507.9L693.0,508.1L693.8,507.8L694.6,508.3L695.4,508.3L696.2,508.1L697.0,507.5L697.8,507.6L698.6,507.5L699.4,507.7L700.2,508.3L701.0,508.4L701.8,507.6L702.6,507.8L703.4,508.0L704.2,507.2L705.0,505.8L705.8,505.0L706.6,503.8L707.4,502.7L708.6,501.9L709.8,502.7L710.6,503.8L711.4,505.0L712.2,506.4L713.0,506.8L713.8,507.0L714.6,507.4L715.4,507.8L716.2,507.3L717.0,507.6L717.8,508.1L718.6,508.0L719.4,508.0L720.2,507.7L721.0,508.3L721.8,507.8L722.6,508.1L723.4,508.1L724.2,507.5L725.0,508.2L725.8,507.8L726.6,508.4L727.4,508.6L728.2,508.6L729.0,508.6L729.8,508.1L730.6,507.9L731.4,507.7L732.2,508.3L733.0,507.6L733.8,507.3L734.6,508.1L735.4,508.3L736.2,508.1L737.0,508.1L737.8,507.2L738.6,506.4L739.4,504.6L740.2,503.0L741.0,501.5L741.8,500.3L742.6,499.9L743.4,500.3L744.2,501.5L745.0,503.0L745.8,504.6L746.6,506.1L747.4,506.6L748.2,506.7L749.0,507.8L749.8,507.8L750.6,507.8L751.4,507.9L752.2,507.5L753.0,507.4L753.8,507.4L754.6,507.4L755.4,508.1L756.2,507.7L757.0,507.4L757.8,508.1L758.6,508.0L759.4,507.4L760.2,507.9L761.0,508.1L761.8,508.2L762.6,508.3L763.4,508.0L764.2,507.6L765.0,508.1L765.8,508.1L766.6,508.2L767.4,507.7L768.2,507.7L769.0,508.0L769.8,507.8L770.6,508.0L771.4,507.9L772.2,508.2L773.0,507.9L773.8,507.9L774.6,508.3L775.4,507.9L776.2,507.5L777.0,507.9L777.8,507.5L778.6,508.1L779.4,507.7L780.2,508.3L781.0,508.1L781.8,507.6L782.6,507.8L783.4,508.1L784.2,508.0L785.0,508.1L785.8,507.8L786.6,508.4L787.4,507.8L788.2,508.2L789.0,507.5L789.8,507.7L790.6,507.3L791.4,507.2L792.2,507.7L793.0,508.3L793.8,507.9L794.6,507.8L795.4,507.8L796.2,508.0L797.0,507.8L797.8,507.7L798.6,508.2L799.4,508.1L800.2,507.8L801.0,508.2L801.8,508.6L802.6,508.1L803.4,507.5L804.2,507.5L805.0,508.2L805.8,507.7L806.6,507.5L807.4,508.0L808.2,507.5L809.0,508.1L809.8,507.7L810.6,507.7L811.4,507.9L812.2,507.5L813.0,508.0L813.8,507.9L814.6,508.2L815.4,508.3L816.2,507.6L817.0,508.1L817.8,508.4L818.6,507.8L819.4,508.0L820.2,507.6L821.0,507.8L821.8,508.1L822.6,507.9L823.4,507.9L824.2,507.5L825.0,508.1L825.8,508.1L826.6,508.4L827.4,507.7L828.2,508.1L829.0,507.5L829.8,507.8L830.6,507.6L831.4,508.2L832.2,507.6L833.0,507.7L833.8,507.8L834.6,507.7L835.4,507.3L836.2,507.8L837.0,508.4L837.8,508.0L838.6,508.4L839.4,507.9L840.2,507.7L841.0,507.7L841.8,508.4L842.6,508.4L843.4,508.3L844.2,507.6L845.0,507.7L845.8,507.3L846.6,507.1L847.4,507.4L848.2,507.4L849.0,507.2L849.8,507.6L850.6,508.1L851.4,508.5L852.2,508.6L853.0,508.1L853.8,507.7L854.6,508.3L855.4,508.0L856.2,507.8L857.0,508.2L857.8,508.1L858.6,508.5L859.4,508.4L860.2,508.6L861.0,507.8L861.8,508.4L862.6,508.2L863.4,508.2L864.2,507.8L865.0,507.6L865.8,507.5L866.6,507.4L867.4,508.2L868.2,507.6L869.0,507.5L869.8,507.9L870.6,507.6L871.4,507.4L872.2,507.4L873.0,507.4L873.8,507.1L874.6,507.8L875.4,508.0L876.2,507.8L877.0,508.3L877.8,508.1L878.6,507.7L879.4,508.3L880.2,507.8L881.0,508.2L881.8,508.4L882.6,507.6L883.4,508.1L884.2,507.9L885.0,507.9L885.8,508.4L886.6,508.1L887.4,507.7L888.2,507.3L889.0,508.1L889.8,507.9L890.6,508.1L891.4,508.2L892.2,508.5L893.0,508.7L893.8,508.7L894.6,508.3L895.4,508.5L896.2,507.9L897.0,507.4L897.8,507.5L898.6,506.5L899.4,506.2L900.2,503.9L901.0,500.6L901.8,496.2L902.6,490.8L903.4,485.7L904.2,482.0L904.9,480.9L905.8,482.7L906.6,486.9L907.4,492.2L908.2,497.4L909.0,501.6L909.8,505.0L910.6,506.4L911.4,507.1L912.2,507.5L913.0,507.5L913.8,507.9L914.6,507.7L915.4,507.8L916.2,507.9L917.0,508.2L917.8,508.3L918.6,508.1L919.4,508.5L920.2,508.6L921.0,508.7L921.8,508.5L922.6,508.1L923.4,507.8L924.2,508.3L925.0,508.0L925.8,508.2L926.6,507.9L927.4,507.8L928.2,507.3L929.0,507.9L929.8,507.7L930.6,507.8L931.4,508.1L932.2,508.4L933.0,508.6L933.8,508.4L934.6,507.8L935.4,508.3L936.2,507.6L937.0,507.7L937.8,508.3L938.6,508.4L939.4,508.2L940.2,508.5L941.0,507.8L941.8,507.3L942.6,507.4L943.4,508.2L944.2,507.5L945.0,507.5L945.8,507.7L946.6,507.5L947.4,508.1L948.2,507.6L949.0,507.3L949.8,508.2L950.6,507.5L951.4,507.4L952.2,507.4L953.0,507.8L953.8,507.2L954.6,506.7L955.4,505.8L956.2,504.7L957.0,503.5L957.8,502.6L959.0,501.9L960.2,502.6L961.0,503.5L961.8,504.7L962.6,505.8L963.4,506.3L964.2,507.2L965.0,507.0L965.8,507.7L966.6,507.4L967.4,507.5L968.2,507.2L969.0,507.8L969.8,508.2L970.6,508.3L971.4,507.9L972.2,507.6L973.0,508.3L973.8,508.4L974.6,508.6L975.4,508.1L976.2,508.3L977.0,507.9L977.8,507.6L978.6,506.7L979.4,505.4L980.2,504.2L981.0,502.8L981.8,501.7L983.0,500.9L984.2,501.7L985.0,502.8L985.8,504.2L986.6,505.4L987.4,506.5L988.2,506.9L989.0,507.9L989.8,508.4L990.6,508.0L991.4,508.0L992.2,507.4L993.0,507.5L993.8,508.3L994.6,508.1L995.4,508.5L996.2,507.5L997.0,506.8L997.8,506.1L998.6,504.9L999.4,503.7L1000.2,500.9L1001.0,497.3L1001.8,493.6L1002.6,490.5L1003.6,488.9L1004.2,489.5L1005.0,491.9L1005.8,495.4L1006.6,499.2L1007.4,502.6L1008.2,504.8L1009.0,506.7L1009.8,507.2L1010.6,508.0L1011.4,508.2L1012.2,508.2L1013.0,508.1L1013.8,508.2L1014.6,508.5L1015.4,508.7L1016.2,508.3L1017.0,508.6L1017.8,507.9L1018.6,508.4L1019.4,508.5L1020.2,508.3L1021.0,507.7L1021.8,508.2L1022.6,507.9L1023.4,507.7L1024.2,508.3L1025.0,507.6L1025.8,507.9L1026.6,507.6L1027.4,508.2L1028.2,507.7L1029.0,507.4L1029.8,507.7L1030.6,507.7L1031.4,508.1L1032.2,507.8L1033.0,507.6L1033.8,507.5L1034.6,507.8L1035.4,507.4L1036.2,507.8L1037.0,508.2L1037.8,508.2L1038.6,507.8L1039.4,507.8L1040.2,507.4L1041.0,507.7L1041.8,508.1L1042.6,507.4L1043.4,507.9L1044.2,508.3L1045.0,507.9L1045.8,507.7L1046.6,508.0L1047.4,507.6L1048.2,507.5L1049.0,507.8L1049.8,507.9L1050.6,507.5L1051.4,507.4L1052.2,507.7L1053.0,508.2L1053.8,507.7L1054.6,508.0L1055.4,508.0L1056.2,507.7L1057.0,507.7L1057.8,508.2L1058.6,507.6L1059.4,507.8L1060.2,507.8L1061.0,507.4L1061.8,507.6L1062.6,507.4L1063.4,507.6L1064.2,507.2L1065.0,507.7L1065.8,508.1L1066.6,508.4L1067.4,508.6L1068.2,507.9L1069.0,508.3L1069.8,507.9L1070.6,508.1L1071.4,508.0L1072.2,508.2L1073.0,507.9L1073.8,508.4L1074.6,508.1L1075.4,508.3L1076.2,507.7L1077.0,508.1L1077.8,507.7L1078.6,507.7L1079.4,507.7L1080.2,508.0L1081.0,508.0L1081.8,507.7L1082.6,508.3L1083.4,507.6L1084.2,507.7L1085.0,507.4L1085.8,507.3L1086.6,507.3L1087.4,508.1L1088.2,507.5L1089.0,507.9L1089.8,508.0L1090.6,508.3L1091.4,508.5L1092.2,507.7L1093.0,508.3L1093.8,507.7L1094.6,507.4L1095.4,507.4L1096.2,507.9L1097.0,508.0L1097.8,508.1L1098.6,507.7L1099.4,507.8L1100.2,507.7L1101.0,508.3L1101.8,508.2L1102.6,508.2L1103.4,508.0L1104.2,507.5L1105.0,507.3L1105.8,507.3L1106.6,507.9L1107.4,507.6L1108.2,507.7L1109.0,507.6L1109.8,507.4L1110.6,507.5L1111.4,507.7L1112.2,508.3L1113.0,508.4L1113.8,508.0L1114.6,507.7L1115.4,507.5L1116.2,507.6L1117.0,507.8L1117.8,508.4L1118.6,507.6L1119.4,507.4L1120.2,507.6L1121.0,507.8" fill="none" stroke="#000000" stroke-width="3.2" stroke-linejoin="round" stroke-linecap="butt"/>
<text x="630.5" y="65.2" font-size="25.0" fill="#ff00ff" text-anchor="start">Zn 2p</text>
<line x1="698.0" y1="94.0" x2="675.6" y2="83.1" stroke="#ff00ff" stroke-width="1.1"/>
<polygon points="667.0,79.0 678.5,81.6 676.2,86.4" fill="#ff00ff"/>
<text x="745.1" y="94.7" font-size="25.0" fill="#ff00ff" text-anchor="start">Cu 2p</text>
<line x1="745.0" y1="117.0" x2="755.2" y2="103.6" stroke="#ff00ff" stroke-width="1.1"/>
<polygon points="761.0,96.0 756.2,106.8 751.9,103.5" fill="#ff00ff"/>
<text x="923.5" y="69.7" font-size="25.0" fill="#ff00ff" text-anchor="start">O 1s</text>
<line x1="907.0" y1="76.0" x2="915.3" y2="72.3" stroke="#ff00ff" stroke-width="1.1"/>
<polygon points="924.0,68.5 914.6,75.6 912.4,70.7" fill="#ff00ff"/>
<text x="1008.5" y="89.7" font-size="25.0" fill="#ff00ff" text-anchor="start">C 1s</text>
<line x1="1003.6" y1="110.7" x2="1024.0" y2="96.3" stroke="#ff00ff" stroke-width="1.1"/>
<polygon points="1031.8,90.8 1024.0,99.6 1020.8,95.2" fill="#ff00ff"/>
<text x="639.9" y="230.5" font-size="25.0" fill="#0000ff" text-anchor="start">Zn 2p</text>
<line x1="702.3" y1="261.5" x2="689.8" y2="246.9" stroke="#0000ff" stroke-width="1.1"/>
<polygon points="683.6,239.7 693.1,246.7 689.0,250.2" fill="#0000ff"/>
<text x="739.5" y="241.7" font-size="25.0" fill="#0000ff" text-anchor="start">Cu 2p</text>
<line x1="747.6" y1="268.0" x2="766.9" y2="254.1" stroke="#0000ff" stroke-width="1.1"/>
<polygon points="774.6,248.6 766.8,257.5 763.7,253.1" fill="#0000ff"/>
<text x="860.5" y="209.7" font-size="25.0" fill="#0000ff" text-anchor="start">O 1s</text>
<line x1="901.3" y1="242.7" x2="889.5" y2="224.0" stroke="#0000ff" stroke-width="1.1"/>
<polygon points="884.4,216.0 892.8,224.3 888.3,227.2" fill="#0000ff"/>
<text x="920.5" y="236.9" font-size="25.0" fill="#0000ff" text-anchor="start">N 1s</text>
<line x1="962.0" y1="256.8" x2="954.2" y2="247.6" stroke="#0000ff" stroke-width="1.1"/>
<polygon points="948.0,240.4 957.5,247.4 953.4,250.9" fill="#0000ff"/>
<text x="977.5" y="207.7" font-size="25.0" fill="#0000ff" text-anchor="start">Pd 3d</text>
<line x1="982.6" y1="230.5" x2="992.7" y2="218.9" stroke="#0000ff" stroke-width="1.1"/>
<polygon points="999.0,211.8 993.4,222.2 989.4,218.7" fill="#0000ff"/>
<text x="1031.9" y="237.6" font-size="25.0" fill="#0000ff" text-anchor="start">C 1s</text>
<line x1="1004.0" y1="243.2" x2="1022.5" y2="234.0" stroke="#0000ff" stroke-width="1.1"/>
<polygon points="1031.0,229.8 1021.9,237.3 1019.5,232.5" fill="#0000ff"/>
<text x="643.9" y="347.1" font-size="25.0" fill="#ff0000" text-anchor="start">Zn 2p</text>
<line x1="707.0" y1="378.5" x2="693.6" y2="363.3" stroke="#ff0000" stroke-width="1.1"/>
<polygon points="687.3,356.2 696.9,363.0 692.9,366.6" fill="#ff0000"/>
<text x="731.9" y="354.1" font-size="25.0" fill="#ff0000" text-anchor="start">Cu 2p</text>
<line x1="742.2" y1="379.2" x2="759.4" y2="366.1" stroke="#ff0000" stroke-width="1.1"/>
<polygon points="767.0,360.4 759.5,369.5 756.2,365.2" fill="#ff0000"/>
<text x="897.0" y="326.7" font-size="25.0" fill="#ff0000" text-anchor="start">O 1s</text>
<line x1="903.0" y1="352.0" x2="915.2" y2="340.0" stroke="#ff0000" stroke-width="1.1"/>
<polygon points="922.0,333.4 915.7,343.4 911.9,339.5" fill="#ff0000"/>
<text x="929.8" y="356.0" font-size="25.0" fill="#ff0000" text-anchor="start">N 1s</text>
<line x1="961.0" y1="379.0" x2="960.0" y2="369.1" stroke="#ff0000" stroke-width="1.1"/>
<polygon points="959.0,359.7 962.9,370.9 957.5,371.4" fill="#ff0000"/>
<text x="966.2" y="315.7" font-size="25.0" fill="#ff0000" text-anchor="start">Pd 3d</text>
<line x1="984.0" y1="380.0" x2="999.1" y2="333.7" stroke="#ff0000" stroke-width="1.1"/>
<polygon points="1002.0,324.7 1001.0,336.5 995.9,334.8" fill="#ff0000"/>
<text x="1012.5" y="341.2" font-size="25.0" fill="#ff0000" text-anchor="start">C 1s</text>
<line x1="1010.0" y1="371.0" x2="1027.0" y2="355.4" stroke="#ff0000" stroke-width="1.1"/>
<polygon points="1034.0,349.0 1027.3,358.8 1023.7,354.8" fill="#ff0000"/>
<text x="643.9" y="463.9" font-size="25.0" fill="#000000" text-anchor="start">Zn 2p</text>
<line x1="706.6" y1="495.3" x2="693.5" y2="480.2" stroke="#000000" stroke-width="1.1"/>
<polygon points="687.3,473.0 696.9,479.9 692.8,483.5" fill="#000000"/>
<text x="734.5" y="473.7" font-size="25.0" fill="#000000" text-anchor="start">Cu 2p</text>
<line x1="744.0" y1="498.9" x2="761.7" y2="486.3" stroke="#000000" stroke-width="1.1"/>
<polygon points="769.4,480.8 761.6,489.7 758.5,485.3" fill="#000000"/>
<text x="857.1" y="435.0" font-size="25.0" fill="#000000" text-anchor="start">O 1s</text>
<line x1="900.8" y1="480.0" x2="894.1" y2="450.7" stroke="#000000" stroke-width="1.1"/>
<polygon points="892.0,441.4 897.2,452.0 891.9,453.2" fill="#000000"/>
<text x="914.5" y="485.0" font-size="25.0" fill="#000000" text-anchor="start">N 1s</text>
<line x1="954.8" y1="500.4" x2="949.9" y2="495.9" stroke="#000000" stroke-width="1.1"/>
<polygon points="943.0,489.4 953.3,495.3 949.6,499.2" fill="#000000"/>
<text x="936.5" y="456.1" font-size="25.0" fill="#000000" text-anchor="start">Pd 3d</text>
<line x1="984.6" y1="498.0" x2="982.6" y2="472.3" stroke="#000000" stroke-width="1.1"/>
<polygon points="981.8,462.8 985.4,474.0 980.0,474.5" fill="#000000"/>
<text x="1012.5" y="462.7" font-size="25.0" fill="#000000" text-anchor="start">C 1s</text>
<line x1="1004.0" y1="487.5" x2="1025.4" y2="477.1" stroke="#000000" stroke-width="1.1"/>
<polygon points="1034.0,473.0 1024.8,480.4 1022.5,475.6" fill="#000000"/>
<line x1="1150" y1="260" x2="1211.5" y2="260" stroke="#000000" stroke-width="3.7" stroke-linecap="round"/>
<text x="1218.6" y="269.2" font-size="27.5" fill="#000" text-anchor="start">PCZ-1</text>
<line x1="1150" y1="295" x2="1211.5" y2="295" stroke="#ff0000" stroke-width="3.4" stroke-linecap="round"/>
<text x="1218.6" y="304.2" font-size="27.5" fill="#000" text-anchor="start">PCZ-2</text>
<line x1="1150" y1="329.9" x2="1211.5" y2="329.9" stroke="#0000ff" stroke-width="3.4" stroke-linecap="round"/>
<text x="1218.6" y="339.1" font-size="27.5" fill="#000" text-anchor="start">PCZ-3</text>
<line x1="1150" y1="364.9" x2="1211.5" y2="364.9" stroke="#ff00ff" stroke-width="3.4" stroke-linecap="round"/>
<text x="1218.6" y="374.1" font-size="27.5" fill="#000" text-anchor="start">BM-3</text>
</g>
<g id="panelB">
<text class="panel" transform="translate(9.4 724.2) scale(0.95 1)" font-size="66.8">B</text>
<path d="M79.7,712.2V1184.6H720.8" fill="none" stroke="#000" stroke-width="3.1" stroke-linecap="square"/>
<line x1="107.9" y1="1184.6" x2="107.9" y2="1190.8" stroke="#000" stroke-width="3"/>
<line x1="254" y1="1184.6" x2="254" y2="1195.8" stroke="#000" stroke-width="3"/>
<text x="254.4" y="1221.9" font-size="27.3" fill="#000" text-anchor="middle">340</text>
<line x1="400.1" y1="1184.6" x2="400.1" y2="1190.8" stroke="#000" stroke-width="3"/>
<line x1="546.2" y1="1184.6" x2="546.2" y2="1195.8" stroke="#000" stroke-width="3"/>
<text x="546.6" y="1221.9" font-size="27.3" fill="#000" text-anchor="middle">335</text>
<line x1="692.3" y1="1184.6" x2="692.3" y2="1190.8" stroke="#000" stroke-width="3"/>
<text x="270.0" y="1269.4" font-size="27.8" fill="#000" text-anchor="start">Binding Energy / eV</text>
<text transform="translate(31.3 957.9) rotate(-90)" font-size="27.55" fill="#000" text-anchor="middle">Intensity / a.u.</text>
<line x1="247.8" y1="937.7" x2="247.8" y2="1190.5" stroke="#008000" stroke-width="3.4" stroke-dasharray="17 16.9"/>
<line x1="530.9" y1="830.4" x2="530.9" y2="1186" stroke="#008000" stroke-width="3.4" stroke-dasharray="17 16.9"/>
<path d="M80.6,1005.5L82.6,1004.2L84.6,1002.8L86.6,1001.3L88.6,999.7L90.6,998.1L92.6,996.4L94.6,994.6L96.6,992.8L98.6,990.9L100.6,989.0L102.6,987.0L104.6,984.9L106.6,982.8L108.6,980.6L110.6,978.4L112.6,976.2L114.6,973.8L116.6,971.5L118.6,969.1L120.6,966.7L122.6,964.3L124.6,961.8L126.6,959.3L128.6,956.7L130.6,954.2L132.6,951.6L134.6,949.0L136.6,946.4L138.6,943.8L140.6,941.2L142.6,938.7L144.6,936.1L146.6,933.7L148.6,931.2L150.6,928.8L152.6,926.4L154.7,924.1L156.7,921.9L158.7,919.8L160.7,917.7L162.7,915.7L164.7,913.8L166.7,912.1L168.7,910.4L170.7,908.9L172.7,907.4L174.7,906.1L176.7,904.9L178.7,903.7L180.7,902.8L182.7,901.9L184.7,901.1L186.7,900.4L188.7,899.9L190.7,899.4L192.7,899.1L194.7,898.9L196.7,898.8L198.7,898.8L200.7,898.9L202.7,899.1L204.7,899.5L206.7,899.9L208.7,900.5L210.7,901.2L212.7,902.0L214.7,902.8L216.7,903.8L218.7,904.9L220.7,906.1L222.7,907.4L224.7,908.7L226.7,910.2L228.7,911.7L230.7,913.2L232.7,914.9L234.7,916.5L236.7,918.3L238.7,920.0L240.7,921.8L242.7,923.7L244.7,925.6L246.7,927.5L248.7,929.4L250.7,931.3L252.7,933.2L254.7,935.1L256.7,937.1L258.7,939.0L260.7,940.9L262.7,942.8L264.7,944.7L266.7,946.6L268.7,948.5L270.7,950.4L272.7,952.3L274.7,954.2L276.7,956.0L278.7,957.8L280.7,959.7L282.7,961.5L284.7,963.3L286.7,965.1L288.7,966.8L290.7,968.6L292.7,970.3L294.7,972.0L296.7,973.7L298.8,975.3L300.8,977.0L302.8,978.6L304.8,980.2L306.8,981.8L308.8,983.3L310.8,984.8L312.8,986.3L314.8,987.7L316.8,989.2L318.8,990.5L320.8,991.9L322.8,993.2L324.8,994.5L326.8,995.8L328.8,997.0L330.8,998.2L332.8,999.3L334.8,1000.4L336.8,1001.5L338.8,1002.5L340.8,1003.5L342.8,1004.5L344.8,1005.4L346.8,1006.2L348.8,1007.0L350.8,1007.7L352.8,1008.4L354.8,1009.1L356.8,1009.6L358.8,1010.1L360.8,1010.6L362.8,1010.9L364.8,1011.2L366.8,1011.4L368.8,1011.6L370.8,1011.6L372.8,1011.6L374.8,1011.4L376.8,1011.2L378.8,1010.9L380.8,1010.5L382.8,1010.0L384.8,1009.4L386.8,1008.7L388.8,1007.9L390.8,1007.0L392.8,1005.9L394.8,1004.8L396.8,1003.5L398.8,1002.1L400.8,1000.6L402.8,998.9L404.8,997.2L406.8,995.3L408.8,993.2L410.8,991.0L412.8,988.7L414.8,986.2L416.8,983.6L418.8,980.9L420.8,978.0L422.8,975.0L424.8,971.9L426.8,968.6L428.8,965.2L430.8,961.7L432.8,958.1L434.8,954.3L436.8,950.5L438.8,946.5L440.8,942.4L442.8,938.1L444.9,933.8L446.9,929.4L448.9,924.9L450.9,920.3L452.9,915.7L454.9,911.0L456.9,906.3L458.9,901.5L460.9,896.8L462.9,892.1L464.9,887.4L466.9,882.7L468.9,878.1L470.9,873.6L472.9,869.2L474.9,864.9L476.9,860.7L478.9,856.7L480.9,852.8L482.9,849.1L484.9,845.6L486.9,842.4L488.9,839.3L490.9,836.5L492.9,833.9L494.9,831.5L496.9,829.4L498.9,827.6L500.9,825.9L502.9,824.5L504.9,823.4L506.9,822.5L508.9,821.8L510.9,821.4L512.9,821.3L514.9,821.4L516.9,821.8L518.9,822.4L520.9,823.3L522.9,824.5L524.9,825.9L526.9,827.6L528.9,829.6L530.9,831.9L532.9,834.4L534.9,837.1L536.9,840.1L538.9,843.3L540.9,846.7L542.9,850.3L544.9,854.0L546.9,857.9L548.9,861.8L550.9,865.9L552.9,870.1L554.9,874.4L556.9,878.7L558.9,883.1L560.9,887.5L562.9,891.9L564.9,896.3L566.9,900.6L568.9,905.0L570.9,909.3L572.9,913.6L574.9,917.8L576.9,922.0L578.9,926.2L580.9,930.3L582.9,934.3L584.9,938.2L586.9,942.1L589.0,946.0L591.0,949.7L593.0,953.3L595.0,956.9L597.0,960.3L599.0,963.7L601.0,966.9L603.0,970.0L605.0,973.0L607.0,975.8L609.0,978.6L611.0,981.2L613.0,983.7L615.0,986.0L617.0,988.3L619.0,990.4L621.0,992.4L623.0,994.3L625.0,996.0L627.0,997.7L629.0,999.2L631.0,1000.7L633.0,1002.0L635.0,1003.3L637.0,1004.4L639.0,1005.4L641.0,1006.4L643.0,1007.2L645.0,1008.0L647.0,1008.6L649.0,1009.2L651.0,1009.8L653.0,1010.2L655.0,1010.6L657.0,1010.9L659.0,1011.2L661.0,1011.4L720.3,1011.5" fill="none" stroke="#0000ff" stroke-width="3.2" stroke-linejoin="round" stroke-linecap="butt"/>
<path d="M80.0,1048.8L82.0,1048.7L84.0,1048.6L86.0,1048.5L88.0,1048.4L90.0,1048.3L92.0,1048.2L94.0,1048.0L96.0,1047.9L98.0,1047.8L100.0,1047.7L102.0,1047.5L104.0,1047.4L106.0,1047.3L108.0,1047.1L110.0,1047.0L112.0,1046.8L114.0,1046.7L116.0,1046.6L118.0,1046.5L120.0,1046.3L122.0,1046.2L124.0,1046.1L126.0,1046.0L128.0,1045.9L130.0,1045.8L132.0,1045.7L134.0,1045.7L136.0,1045.6L138.0,1045.5L140.0,1045.5L142.0,1045.5L144.0,1045.5L146.0,1045.5L148.0,1045.5L150.0,1045.5L152.0,1045.5L154.0,1045.6L156.0,1045.7L158.0,1045.8L160.0,1045.9L162.0,1046.0L164.0,1046.1L166.0,1046.3L168.0,1046.4L170.0,1046.6L172.0,1046.8L174.0,1047.0L176.0,1047.2L178.0,1047.4L180.0,1047.7L182.0,1047.9L184.0,1048.2L186.0,1048.4L188.0,1048.7L190.0,1049.0L192.0,1049.2L194.0,1049.5L196.0,1049.8L198.0,1050.1L200.0,1050.4L202.0,1050.7L204.0,1051.0L206.0,1051.4L208.0,1051.7L210.0,1052.0L212.0,1052.3L214.0,1052.6L216.0,1052.9L218.0,1053.3L220.0,1053.6L222.0,1053.9L224.0,1054.2L226.0,1054.5L228.0,1054.8L230.0,1055.1L232.0,1055.4L234.0,1055.7L236.0,1056.0L238.0,1056.3L240.0,1056.5L242.0,1056.8L244.0,1057.0L246.0,1057.3L248.0,1057.5L250.0,1057.7L252.0,1057.9L254.0,1058.1L256.0,1058.3L258.0,1058.4L260.0,1058.6L262.0,1058.7L264.0,1058.8L266.0,1058.9L268.0,1058.9L270.0,1059.0L272.0,1059.0L274.0,1059.0L276.0,1059.0L278.0,1059.0L280.0,1058.9L282.0,1058.9L284.0,1058.8L286.0,1058.7L288.0,1058.6L290.0,1058.4L292.0,1058.3L294.0,1058.1L296.0,1057.9L298.0,1057.7L300.0,1057.5L302.0,1057.2L304.0,1057.0L306.0,1056.7L308.0,1056.4L310.0,1056.2L312.0,1055.8L314.0,1055.5L316.0,1055.2L318.0,1054.8L320.0,1054.5L322.0,1054.1L324.0,1053.8L326.0,1053.4L328.0,1053.0L330.0,1052.6L332.0,1052.2L334.0,1051.8L336.0,1051.3L338.0,1050.9L340.0,1050.5L342.0,1050.1L344.0,1049.6L346.0,1049.2L348.0,1048.7L350.0,1048.3L352.0,1047.8L354.0,1047.4L356.0,1046.9L358.0,1046.5L360.0,1046.1L362.0,1045.6L364.0,1045.2L366.0,1044.7L368.0,1044.3L370.0,1043.9L372.0,1043.4L374.0,1043.0L376.0,1042.6L378.0,1042.2L380.0,1041.8L382.0,1041.3L384.0,1040.9L386.0,1040.5L388.0,1040.1L390.0,1039.8L392.0,1039.4L394.0,1039.0L396.0,1038.6L398.0,1038.3L400.0,1037.9L402.0,1037.6L404.0,1037.2L406.0,1036.9L408.0,1036.5L410.0,1036.2L412.0,1035.9L414.0,1035.6L416.0,1035.3L418.0,1035.0L420.0,1034.7L422.0,1034.5L424.0,1034.2L426.0,1034.0L428.0,1033.7L430.0,1033.5L432.0,1033.3L434.0,1033.0L436.0,1032.8L438.0,1032.6L440.0,1032.5L442.0,1032.3L444.0,1032.1L446.0,1032.0L448.0,1031.9L450.0,1031.7L452.0,1031.6L454.0,1031.5L456.0,1031.4L458.0,1031.4L460.0,1031.3L462.0,1031.3L464.0,1031.2L466.0,1031.2L468.0,1031.2L470.0,1031.2L472.0,1031.2L474.0,1031.3L476.0,1031.3L478.0,1031.4L480.0,1031.5L482.0,1031.6L484.0,1031.7L486.0,1031.8L488.0,1032.0L490.0,1032.1L492.0,1032.3L494.0,1032.5L496.0,1032.7L498.0,1033.0L500.0,1033.2L502.0,1033.5L504.0,1033.8L506.0,1034.1L508.0,1034.4L510.0,1034.8L512.0,1035.1L514.0,1035.5L516.0,1035.9L518.0,1036.3L520.0,1036.7L522.0,1037.1L524.0,1037.6L526.0,1038.0L528.0,1038.5L530.0,1039.0L532.0,1039.5L534.0,1039.9L536.0,1040.4L538.0,1041.0L540.0,1041.5L542.0,1042.0L544.0,1042.5L546.0,1043.0L548.0,1043.6L550.0,1044.1L552.0,1044.6L554.0,1045.2L556.0,1045.7L558.0,1046.2L560.0,1046.8L562.0,1047.3L564.0,1047.8L566.0,1048.3L568.0,1048.9L570.0,1049.4L572.0,1049.9L574.0,1050.4L576.0,1050.9L578.0,1051.4L580.0,1051.8L582.0,1052.3L584.0,1052.7L586.0,1053.2L588.0,1053.6L590.0,1054.0L592.0,1054.4L594.0,1054.8L596.0,1055.2L598.0,1055.6L600.0,1055.9L602.0,1056.3L604.0,1056.6L606.0,1056.9L608.0,1057.2L610.0,1057.5L612.0,1057.7L614.0,1058.0L616.0,1058.2L618.0,1058.4L620.0,1058.6L622.0,1058.8L624.0,1058.9L720.3,1059.9" fill="none" stroke="#ff0000" stroke-width="3.2" stroke-linejoin="round" stroke-linecap="butt"/>
<path d="M81.1,1161.8L83.1,1161.3L85.1,1160.8L87.1,1160.3L89.1,1159.8L91.1,1159.3L93.1,1158.7L95.1,1158.2L97.1,1157.6L99.1,1157.0L101.1,1156.5L103.2,1155.9L105.2,1155.3L107.2,1154.8L109.2,1154.2L111.2,1153.6L113.2,1153.0L115.2,1152.5L117.2,1151.9L119.2,1151.3L121.2,1150.8L123.2,1150.2L125.2,1149.6L127.2,1149.1L129.2,1148.6L131.2,1148.0L133.2,1147.5L135.2,1147.0L137.2,1146.5L139.2,1146.0L141.2,1145.6L143.2,1145.1L145.3,1144.7L147.3,1144.2L149.3,1143.8L151.3,1143.4L153.3,1143.1L155.3,1142.7L157.3,1142.4L159.3,1142.1L161.3,1141.8L163.3,1141.5L165.3,1141.3L167.3,1141.0L169.3,1140.9L171.3,1140.7L173.3,1140.5L175.3,1140.4L177.3,1140.3L179.3,1140.2L181.3,1140.1L183.3,1140.1L185.3,1140.1L187.3,1140.1L189.4,1140.1L191.4,1140.1L193.4,1140.2L195.4,1140.2L197.4,1140.3L199.4,1140.4L201.4,1140.6L203.4,1140.7L205.4,1140.9L207.4,1141.0L209.4,1141.2L211.4,1141.5L213.4,1141.7L215.4,1141.9L217.4,1142.2L219.4,1142.5L221.4,1142.7L223.4,1143.1L225.4,1143.4L227.4,1143.7L229.4,1144.1L231.5,1144.4L233.5,1144.8L235.5,1145.2L237.5,1145.6L239.5,1146.0L241.5,1146.4L243.5,1146.8L245.5,1147.3L247.5,1147.7L249.5,1148.2L251.5,1148.6L253.5,1149.1L255.5,1149.6L257.5,1150.0L259.5,1150.5L261.5,1150.9L263.5,1151.4L265.5,1151.8L267.5,1152.2L269.5,1152.6L271.5,1153.0L273.6,1153.4L275.6,1153.7L277.6,1154.1L279.6,1154.4L281.6,1154.7L283.6,1154.9L285.6,1155.2L287.6,1155.4L289.6,1155.6L291.6,1155.8L293.6,1155.9L295.6,1156.0L297.6,1156.1L299.6,1156.2L301.6,1156.2L303.6,1156.3L305.6,1156.3L307.6,1156.2L309.6,1156.2L311.6,1156.1L313.6,1156.0L315.7,1155.9L317.7,1155.7L319.7,1155.6L321.7,1155.4L323.7,1155.1L325.7,1154.9L327.7,1154.6L329.7,1154.3L331.7,1154.0L333.7,1153.6L335.7,1153.3L337.7,1152.9L339.7,1152.5L341.7,1152.0L343.7,1151.6L345.7,1151.1L347.7,1150.6L349.7,1150.1L351.7,1149.6L353.7,1149.0L355.7,1148.5L357.8,1147.9L359.8,1147.3L361.8,1146.7L363.8,1146.1L365.8,1145.4L367.8,1144.8L369.8,1144.1L371.8,1143.4L373.8,1142.8L375.8,1142.1L377.8,1141.4L379.8,1140.6L381.8,1139.9L383.8,1139.2L385.8,1138.5L387.8,1137.7L389.8,1137.0L391.8,1136.2L393.8,1135.5L395.8,1134.7L397.8,1134.0L399.8,1133.2L401.9,1132.4L403.9,1131.7L405.9,1130.9L407.9,1130.1L409.9,1129.4L411.9,1128.6L413.9,1127.8L415.9,1127.1L417.9,1126.3L419.9,1125.5L421.9,1124.8L423.9,1124.0L425.9,1123.3L427.9,1122.5L429.9,1121.8L431.9,1121.1L433.9,1120.4L435.9,1119.6L437.9,1118.9L439.9,1118.2L441.9,1117.6L444.0,1116.9L446.0,1116.2L448.0,1115.5L450.0,1114.9L452.0,1114.3L454.0,1113.7L456.0,1113.0L458.0,1112.4L460.0,1111.9L462.0,1111.3L464.0,1110.8L466.0,1110.2L468.0,1109.7L470.0,1109.2L472.0,1108.7L474.0,1108.3L476.0,1107.8L478.0,1107.4L480.0,1107.0L482.0,1106.6L484.0,1106.2L486.1,1105.9L488.1,1105.6L490.1,1105.3L492.1,1105.0L494.1,1104.8L496.1,1104.6L498.1,1104.4L500.1,1104.2L502.1,1104.1L504.1,1104.0L506.1,1103.9L508.1,1103.9L510.1,1103.9L512.1,1103.9L514.1,1104.0L516.1,1104.1L518.1,1104.2L520.1,1104.4L522.1,1104.6L524.1,1104.9L526.1,1105.2L528.2,1105.5L530.2,1105.9L532.2,1106.3L534.2,1106.7L536.2,1107.3L538.2,1107.8L540.2,1108.4L542.2,1109.1L544.2,1109.8L546.2,1110.5L548.2,1111.3L550.2,1112.1L552.2,1113.0L554.2,1114.0L556.2,1115.0L558.2,1116.0L560.2,1117.1L562.2,1118.2L564.2,1119.3L566.2,1120.5L568.2,1121.7L570.3,1122.9L572.3,1124.2L574.3,1125.4L576.3,1126.7L578.3,1128.0L580.3,1129.3L582.3,1130.6L584.3,1131.9L586.3,1133.2L588.3,1134.5L590.3,1135.8L592.3,1137.1L594.3,1138.4L596.3,1139.6L598.3,1140.9L600.3,1142.1L602.3,1143.3L604.3,1144.5L606.3,1145.6L608.3,1146.7L610.3,1147.9L612.3,1148.9L614.4,1150.0L616.4,1151.0L618.4,1152.1L620.4,1153.0L622.4,1154.0L624.4,1154.9L626.4,1155.8L628.4,1156.7L630.4,1157.5L632.4,1158.3L634.4,1159.1L636.4,1159.8L638.4,1160.5L640.4,1161.1L642.4,1161.7L644.4,1162.3L646.4,1162.9L648.4,1163.4L650.4,1163.9L652.4,1164.3L654.4,1164.7L656.5,1165.1L658.5,1165.5L660.5,1165.8L662.5,1166.1L664.5,1166.4L666.5,1166.6L668.5,1166.9L670.5,1167.1L672.5,1167.2L674.5,1167.4L676.5,1167.5L720.3,1167.2" fill="none" stroke="#000000" stroke-width="3.2" stroke-linejoin="round" stroke-linecap="butt"/>
<line x1="97.6" y1="728" x2="159.6" y2="728" stroke="#000000" stroke-width="3.5" stroke-linecap="round"/>
<text x="166.6" y="737.1" font-size="27.7" fill="#000" text-anchor="start">PCZ-1</text>
<line x1="97.6" y1="762.8" x2="159.6" y2="762.8" stroke="#ff0000" stroke-width="3.1" stroke-linecap="round"/>
<text x="166.6" y="771.9" font-size="27.7" fill="#000" text-anchor="start">PCZ-2</text>
<line x1="97.6" y1="797.6" x2="159.6" y2="797.6" stroke="#0000ff" stroke-width="3.1" stroke-linecap="round"/>
<text x="166.6" y="806.7" font-size="27.7" fill="#000" text-anchor="start">PCZ-3</text>
<text x="151.0" y="858.8" font-size="27.6" fill="#000000" text-anchor="start">Pd 3d<tspan font-size="17.0" dx="0.2" dy="10.0">3/2</tspan></text>
<text x="487.2" y="778.4" font-size="27.6" fill="#000000" text-anchor="start">Pd 3d<tspan font-size="17.0" dx="0.2" dy="10.0">5/2</tspan></text>
<text x="155.2" y="888.8" font-size="24.5" fill="#0000ff" text-anchor="start">341.21</text>
<text x="245.2" y="920.8" font-size="27.6" fill="#008000" text-anchor="start">340.16</text>
<text x="474.6" y="813.8" font-size="25.3" fill="#0000ff" text-anchor="start">335.92</text>
<text x="556.7" y="823.1" font-size="27.5" fill="#008000" text-anchor="start">335.40</text>
<text x="100.7" y="1034.3" font-size="27.4" fill="#ff0000" text-anchor="start">341.60</text>
<text x="424.2" y="1026.2" font-size="27.3" fill="#ff0000" text-anchor="start">336.22</text>
<text x="139.6" y="1129.2" font-size="27.4" fill="#000000" text-anchor="start">341.02</text>
<text x="444.0" y="1096.0" font-size="27.2" fill="#000000" text-anchor="start">335.58</text>
</g>
<g id="panelC">
<text class="panel" transform="translate(955.2 724.1) scale(1.0 1)" font-size="68">C</text>
<path d="M1020.3,712.2V1184.5H1662" fill="none" stroke="#000" stroke-width="3.1" stroke-linecap="square"/>
<line x1="1019.9" y1="1184.5" x2="1019.9" y2="1190.7" stroke="#000" stroke-width="3"/>
<line x1="1148.3" y1="1184.5" x2="1148.3" y2="1195.9" stroke="#000" stroke-width="3"/>
<text x="1147.7" y="1222.0" font-size="27.6" fill="#000" text-anchor="middle">950</text>
<line x1="1276.7" y1="1184.5" x2="1276.7" y2="1190.7" stroke="#000" stroke-width="3"/>
<line x1="1405.1" y1="1184.5" x2="1405.1" y2="1195.9" stroke="#000" stroke-width="3"/>
<text x="1404.5" y="1222.0" font-size="27.6" fill="#000" text-anchor="middle">940</text>
<line x1="1533.5" y1="1184.5" x2="1533.5" y2="1190.7" stroke="#000" stroke-width="3"/>
<line x1="1661.9" y1="1184.5" x2="1661.9" y2="1195.9" stroke="#000" stroke-width="3"/>
<text x="1661.3" y="1222.0" font-size="27.6" fill="#000" text-anchor="middle">930</text>
<text x="1210.5" y="1269.5" font-size="27.75" fill="#000" text-anchor="start">Binding Energy / eV</text>
<text transform="translate(970.8 957.9) rotate(-90)" font-size="27.55" fill="#000" text-anchor="middle">Intensity / a.u.</text>
<line x1="1077.7" y1="895" x2="1077.7" y2="1181" stroke="#008000" stroke-width="3.4" stroke-dasharray="17 16.8"/>
<line x1="1584.3" y1="828.6" x2="1584.3" y2="1184" stroke="#008000" stroke-width="3.4" stroke-dasharray="17 16.8"/>
<path d="M1020.5,930.9L1022.5,929.8L1024.5,928.6L1026.5,927.3L1028.5,925.9L1030.5,924.5L1032.5,922.9L1034.5,921.4L1036.5,919.7L1038.5,918.1L1040.5,916.4L1042.5,914.8L1044.5,913.1L1046.5,911.5L1048.5,909.9L1050.5,908.4L1052.5,906.9L1054.5,905.5L1056.5,904.1L1058.5,902.9L1060.5,901.7L1062.5,900.7L1064.5,899.8L1066.5,899.1L1068.5,898.5L1070.5,898.1L1072.5,897.9L1074.5,897.9L1076.5,898.1L1078.5,898.5L1080.5,899.2L1082.5,900.2L1084.5,901.4L1086.5,902.9L1088.5,904.7L1090.5,906.8L1092.5,909.1L1094.5,911.6L1096.5,914.2L1098.5,917.1L1100.5,920.0L1102.6,923.1L1104.6,926.3L1106.6,929.6L1108.6,932.9L1110.6,936.2L1112.6,939.5L1114.6,942.8L1116.6,945.9L1118.6,949.0L1120.6,951.8L1122.6,954.5L1124.6,957.0L1126.6,959.2L1128.6,961.1L1130.6,962.8L1132.6,964.1L1134.6,965.3L1136.6,966.2L1138.6,967.0L1140.6,967.5L1142.6,967.9L1144.6,968.2L1146.6,968.3L1148.6,968.3L1150.6,968.3L1152.6,968.2L1154.6,968.1L1156.6,967.9L1158.6,967.8L1160.6,967.7L1162.6,967.6L1164.6,967.6L1166.6,967.8L1168.6,968.0L1170.6,968.4L1172.6,968.8L1174.6,969.4L1176.6,970.1L1178.6,970.9L1180.6,971.7L1182.6,972.6L1184.6,973.4L1186.6,974.3L1188.6,975.1L1190.6,975.9L1192.6,976.6L1194.6,977.3L1196.6,977.9L1198.6,978.4L1200.6,978.9L1202.6,979.2L1204.6,979.5L1206.6,979.6L1208.6,979.7L1210.6,979.6L1212.6,979.4L1214.6,979.1L1216.6,978.7L1218.6,978.2L1220.6,977.7L1222.6,977.2L1224.6,976.6L1226.6,976.1L1228.6,975.7L1230.6,975.3L1232.6,975.0L1234.6,974.8L1236.6,974.7L1238.6,974.7L1240.6,974.7L1242.6,974.9L1244.6,975.1L1246.6,975.3L1248.6,975.6L1250.6,975.9L1252.6,976.2L1254.6,976.5L1256.6,976.9L1258.6,977.2L1260.7,977.5L1262.7,977.7L1264.7,977.9L1266.7,978.1L1268.7,978.2L1270.7,978.2L1272.7,978.1L1274.7,978.0L1276.7,977.7L1278.7,977.4L1280.7,976.9L1282.7,976.2L1284.7,975.5L1286.7,974.5L1288.7,973.4L1290.7,972.2L1292.7,970.7L1294.7,969.0L1296.7,967.2L1298.7,965.1L1300.7,962.9L1302.7,960.5L1304.7,958.0L1306.7,955.4L1308.7,952.7L1310.7,950.0L1312.7,947.3L1314.7,944.6L1316.7,941.9L1318.7,939.3L1320.7,936.8L1322.7,934.3L1324.7,932.0L1326.7,929.7L1328.7,927.5L1330.7,925.4L1332.7,923.4L1334.7,921.5L1336.7,919.7L1338.7,918.0L1340.7,916.5L1342.7,915.0L1344.7,913.8L1346.7,912.6L1348.7,911.6L1350.7,910.7L1352.7,910.0L1354.7,909.4L1356.7,909.1L1358.7,908.8L1360.7,908.8L1362.7,908.9L1364.7,909.1L1366.7,909.5L1368.7,910.0L1370.7,910.6L1372.7,911.2L1374.7,912.0L1376.7,912.8L1378.7,913.7L1380.7,914.5L1382.7,915.4L1384.7,916.3L1386.7,917.2L1388.7,918.1L1390.7,918.9L1392.7,919.7L1394.7,920.4L1396.7,921.0L1398.7,921.5L1400.7,922.0L1402.7,922.2L1404.7,922.4L1406.7,922.4L1408.7,922.3L1410.7,922.1L1412.7,921.9L1414.7,921.7L1416.7,921.4L1418.7,921.1L1420.8,920.9L1422.8,920.8L1424.8,920.7L1426.8,920.8L1428.8,920.9L1430.8,921.1L1432.8,921.5L1434.8,922.0L1436.8,922.5L1438.8,923.2L1440.8,924.0L1442.8,924.9L1444.8,925.9L1446.8,927.0L1448.8,928.1L1450.8,929.4L1452.8,930.7L1454.8,932.0L1456.8,933.4L1458.8,934.7L1460.8,936.0L1462.8,937.2L1464.8,938.4L1466.8,939.5L1468.8,940.4L1470.8,941.3L1472.8,942.0L1474.8,942.7L1476.8,943.2L1478.8,943.7L1480.8,944.1L1482.8,944.5L1484.8,944.8L1486.8,945.0L1488.8,945.2L1490.8,945.4L1492.8,945.5L1494.8,945.6L1496.8,945.6L1498.8,945.7L1500.8,945.7L1502.8,945.7L1504.8,945.7L1506.8,945.7L1508.8,945.7L1510.8,945.7L1512.8,945.7L1514.8,945.6L1516.8,945.4L1518.8,945.0L1520.8,944.5L1522.8,943.7L1524.8,942.6L1526.8,941.3L1528.8,939.5L1530.8,937.4L1532.8,934.9L1534.8,931.9L1536.8,928.6L1538.8,925.0L1540.8,921.0L1542.8,916.7L1544.8,912.1L1546.8,907.2L1548.8,902.1L1550.8,896.7L1552.8,891.1L1554.8,885.3L1556.8,879.5L1558.8,873.6L1560.8,867.8L1562.8,862.1L1564.8,856.5L1566.8,851.2L1568.8,846.3L1570.8,841.7L1572.8,837.6L1574.8,833.9L1576.8,830.9L1578.8,828.4L1580.8,826.7L1582.9,825.6L1584.9,825.2L1586.9,825.6L1588.9,826.8L1590.9,828.7L1592.9,831.3L1594.9,834.5L1596.9,838.5L1598.9,843.1L1600.9,848.2L1602.9,853.9L1604.9,860.0L1606.9,866.4L1608.9,873.2L1610.9,880.1L1612.9,887.3L1614.9,894.6L1616.9,901.9L1618.9,909.2L1620.9,916.4L1622.9,923.4L1624.9,930.2L1626.9,936.8L1628.9,943.0L1630.9,948.7L1632.9,954.0L1634.9,958.8L1636.9,962.9L1638.9,966.5L1640.9,969.4L1642.9,971.9L1644.9,973.8L1646.9,975.2L1648.9,976.1L1650.9,976.7L1652.9,976.8L1654.9,976.6L1656.9,976.1L1658.9,975.2L1660.9,974.1" fill="none" stroke="#ff00ff" stroke-width="3.4" stroke-linejoin="round" stroke-linecap="butt"/>
<path d="M1020.5,1001.5L1022.5,1001.5L1024.5,1001.4L1026.5,1001.4L1028.5,1001.3L1030.5,1001.2L1032.5,1001.1L1034.5,1001.0L1036.5,1000.8L1038.6,1000.7L1040.6,1000.5L1042.6,1000.2L1044.6,999.9L1046.6,999.6L1048.6,999.3L1050.6,999.0L1052.6,998.7L1054.6,998.3L1056.6,998.0L1058.6,997.7L1060.6,997.5L1062.6,997.2L1064.6,997.0L1066.6,996.9L1068.6,996.8L1070.6,996.7L1072.6,996.6L1074.7,996.6L1076.7,996.7L1078.7,996.7L1080.7,996.8L1082.7,996.9L1084.7,997.0L1086.7,997.1L1088.7,997.2L1090.7,997.3L1092.7,997.5L1094.7,997.6L1096.7,997.8L1098.7,997.9L1100.7,998.0L1102.7,998.2L1104.7,998.3L1106.7,998.4L1108.8,998.5L1110.8,998.5L1112.8,998.6L1114.8,998.7L1116.8,998.8L1118.8,998.8L1120.8,998.9L1122.8,998.9L1124.8,998.9L1126.8,999.0L1128.8,999.0L1130.8,999.1L1132.8,999.1L1134.8,999.1L1136.8,999.2L1138.8,999.2L1140.8,999.3L1142.9,999.3L1144.9,999.3L1146.9,999.4L1148.9,999.4L1150.9,999.5L1152.9,999.5L1154.9,999.6L1156.9,999.6L1158.9,999.7L1160.9,999.7L1162.9,999.7L1164.9,999.8L1166.9,999.8L1168.9,999.8L1170.9,999.8L1172.9,999.8L1174.9,999.8L1176.9,999.8L1179.0,999.8L1181.0,999.8L1183.0,999.7L1185.0,999.7L1187.0,999.6L1189.0,999.6L1191.0,999.5L1193.0,999.4L1195.0,999.4L1197.0,999.3L1199.0,999.2L1201.0,999.1L1203.0,999.1L1205.0,999.0L1207.0,998.9L1209.0,998.8L1211.0,998.8L1213.1,998.7L1215.1,998.7L1217.1,998.6L1219.1,998.6L1221.1,998.5L1223.1,998.5L1225.1,998.5L1227.1,998.5L1229.1,998.5L1231.1,998.5L1233.1,998.5L1235.1,998.6L1237.1,998.6L1239.1,998.7L1241.1,998.8L1243.1,998.9L1245.1,999.1L1247.1,999.2L1249.2,999.4L1251.2,999.6L1253.2,999.8L1255.2,1000.0L1257.2,1000.2L1259.2,1000.4L1261.2,1000.6L1263.2,1000.7L1265.2,1000.8L1267.2,1000.8L1269.2,1000.8L1271.2,1000.7L1273.2,1000.5L1275.2,1000.3L1277.2,1000.0L1279.2,999.7L1281.2,999.3L1283.3,998.9L1285.3,998.6L1287.3,998.2L1289.3,997.9L1291.3,997.6L1293.3,997.3L1295.3,997.0L1297.3,996.8L1299.3,996.7L1301.3,996.6L1303.3,996.5L1305.3,996.5L1307.3,996.5L1309.3,996.6L1311.3,996.8L1313.3,996.9L1315.3,997.1L1317.4,997.3L1319.4,997.5L1321.4,997.7L1323.4,997.8L1325.4,997.9L1327.4,998.1L1329.4,998.1L1331.4,998.2L1333.4,998.2L1335.4,998.2L1337.4,998.2L1339.4,998.1L1341.4,998.0L1343.4,997.9L1345.4,997.7L1347.4,997.5L1349.4,997.3L1351.4,997.0L1353.5,996.8L1355.5,996.5L1357.5,996.2L1359.5,995.9L1361.5,995.6L1363.5,995.4L1365.5,995.2L1367.5,995.2L1369.5,995.2L1371.5,995.2L1373.5,995.4L1375.5,995.6L1377.5,995.9L1379.5,996.2L1381.5,996.6L1383.5,996.9L1385.5,997.3L1387.6,997.8L1389.6,998.2L1391.6,998.6L1393.6,999.0L1395.6,999.4L1397.6,999.8L1399.6,1000.1L1401.6,1000.4L1403.6,1000.7L1405.6,1000.9L1407.6,1001.0L1409.6,1001.1L1411.6,1001.0L1413.6,1001.0L1415.6,1000.9L1417.6,1000.7L1419.6,1000.5L1421.7,1000.3L1423.7,1000.1L1425.7,999.8L1427.7,999.5L1429.7,999.2L1431.7,999.0L1433.7,998.7L1435.7,998.4L1437.7,998.1L1439.7,997.9L1441.7,997.7L1443.7,997.5L1445.7,997.3L1447.7,997.2L1449.7,997.1L1451.7,997.0L1453.7,997.0L1455.7,996.9L1457.8,996.9L1459.8,997.0L1461.8,997.0L1463.8,997.1L1465.8,997.2L1467.8,997.3L1469.8,997.5L1471.8,997.6L1473.8,997.8L1475.8,997.9L1477.8,998.1L1479.8,998.3L1481.8,998.5L1483.8,998.7L1485.8,998.9L1487.8,999.1L1489.8,999.3L1491.9,999.5L1493.9,999.7L1495.9,999.9L1497.9,1000.1L1499.9,1000.3L1501.9,1000.4L1503.9,1000.6L1505.9,1000.8L1507.9,1000.9L1509.9,1001.0L1511.9,1001.1L1513.9,1001.2L1515.9,1001.3L1517.9,1001.4L1519.9,1001.4L1521.9,1001.4L1523.9,1001.4L1525.9,1001.4L1528.0,1001.4L1530.0,1001.3L1532.0,1001.2L1534.0,1001.1L1536.0,1000.9L1538.0,1000.8L1540.0,1000.6L1542.0,1000.4L1544.0,1000.2L1546.0,999.9L1548.0,999.7L1550.0,999.4L1552.0,999.1L1554.0,998.8L1556.0,998.5L1558.0,998.1L1560.0,997.8L1562.1,997.4L1564.1,997.0L1566.1,996.7L1568.1,996.3L1570.1,995.9L1572.1,995.6L1574.1,995.2L1576.1,994.9L1578.1,994.6L1580.1,994.3L1582.1,994.0L1584.1,993.8L1586.1,993.6L1588.1,993.5L1590.1,993.4L1592.1,993.4L1594.1,993.4L1596.2,993.5L1598.2,993.7L1600.2,993.9L1602.2,994.3L1604.2,994.7L1606.2,995.2L1608.2,995.7L1610.2,996.3L1612.2,997.0L1614.2,997.6L1616.2,998.3L1618.2,999.0L1620.2,999.6L1622.2,1000.2L1624.2,1000.7L1626.2,1001.2L1628.2,1001.6L1630.2,1001.9L1632.3,1002.1L1634.3,1002.3L1636.3,1002.4L1638.3,1002.5L1640.3,1002.5L1642.3,1002.5L1644.3,1002.4L1646.3,1002.3L1648.3,1002.2" fill="none" stroke="#0000ff" stroke-width="3.9" stroke-linejoin="round" stroke-linecap="butt"/>
<path d="M1020.5,1078.5L1022.5,1078.7L1024.5,1079.1L1026.5,1079.5L1028.5,1079.9L1030.5,1080.3L1032.5,1080.7L1034.5,1081.1L1036.5,1081.3L1038.5,1081.5L1040.5,1081.5L1042.5,1081.3L1044.5,1080.9L1046.5,1080.4L1048.5,1079.5L1050.5,1078.4L1052.5,1077.0L1054.5,1075.4L1056.5,1073.7L1058.5,1071.9L1060.5,1070.0L1062.5,1068.1L1064.5,1066.2L1066.5,1064.5L1068.5,1062.8L1070.5,1061.4L1072.5,1060.2L1074.5,1059.1L1076.5,1058.3L1078.5,1057.7L1080.5,1057.3L1082.5,1057.1L1084.5,1057.1L1086.6,1057.2L1088.6,1057.6L1090.6,1058.2L1092.6,1059.0L1094.6,1060.0L1096.6,1061.1L1098.6,1062.4L1100.6,1063.8L1102.6,1065.3L1104.6,1066.9L1106.6,1068.6L1108.6,1070.2L1110.6,1071.9L1112.6,1073.6L1114.6,1075.2L1116.6,1076.7L1118.6,1078.2L1120.6,1079.5L1122.6,1080.8L1124.6,1081.9L1126.6,1082.9L1128.6,1083.9L1130.6,1084.7L1132.6,1085.5L1134.6,1086.2L1136.6,1086.9L1138.6,1087.5L1140.6,1088.0L1142.6,1088.5L1144.6,1088.9L1146.6,1089.3L1148.6,1089.7L1150.6,1090.0L1152.6,1090.4L1154.6,1090.7L1156.6,1091.0L1158.6,1091.3L1160.6,1091.6L1162.6,1091.9L1164.6,1092.2L1166.6,1092.6L1168.6,1092.9L1170.6,1093.3L1172.6,1093.7L1174.6,1094.1L1176.6,1094.5L1178.6,1094.9L1180.6,1095.3L1182.6,1095.7L1184.6,1096.2L1186.6,1096.6L1188.6,1096.9L1190.6,1097.3L1192.6,1097.7L1194.6,1098.0L1196.6,1098.3L1198.6,1098.6L1200.6,1098.9L1202.6,1099.2L1204.6,1099.4L1206.6,1099.5L1208.6,1099.7L1210.6,1099.8L1212.7,1099.8L1214.7,1099.9L1216.7,1099.9L1218.7,1099.9L1220.7,1099.8L1222.7,1099.8L1224.7,1099.7L1226.7,1099.6L1228.7,1099.6L1230.7,1099.5L1232.7,1099.4L1234.7,1099.3L1236.7,1099.2L1238.7,1099.1L1240.7,1099.0L1242.7,1098.9L1244.7,1098.9L1246.7,1098.8L1248.7,1098.8L1250.7,1098.8L1252.7,1098.8L1254.7,1098.8L1256.7,1098.8L1258.7,1098.8L1260.7,1098.8L1262.7,1098.8L1264.7,1098.8L1266.7,1098.8L1268.7,1098.8L1270.7,1098.7L1272.7,1098.7L1274.7,1098.6L1276.7,1098.5L1278.7,1098.3L1280.7,1098.2L1282.7,1098.0L1284.7,1097.7L1286.7,1097.4L1288.7,1097.1L1290.7,1096.7L1292.7,1096.3L1294.7,1095.8L1296.7,1095.3L1298.7,1094.7L1300.7,1094.1L1302.7,1093.3L1304.7,1092.6L1306.7,1091.7L1308.7,1090.8L1310.7,1089.8L1312.7,1088.7L1314.7,1087.5L1316.7,1086.3L1318.7,1085.0L1320.7,1083.7L1322.7,1082.4L1324.7,1081.1L1326.7,1079.8L1328.7,1078.5L1330.7,1077.2L1332.7,1076.0L1334.7,1074.9L1336.7,1073.9L1338.7,1073.0L1340.8,1072.2L1342.8,1071.5L1344.8,1070.9L1346.8,1070.4L1348.8,1070.0L1350.8,1069.6L1352.8,1069.4L1354.8,1069.2L1356.8,1069.1L1358.8,1069.0L1360.8,1069.0L1362.8,1069.0L1364.8,1069.1L1366.8,1069.2L1368.8,1069.3L1370.8,1069.5L1372.8,1069.7L1374.8,1069.9L1376.8,1070.1L1378.8,1070.3L1380.8,1070.4L1382.8,1070.6L1384.8,1070.8L1386.8,1070.9L1388.8,1071.0L1390.8,1071.1L1392.8,1071.2L1394.8,1071.3L1396.8,1071.4L1398.8,1071.4L1400.8,1071.5L1402.8,1071.5L1404.8,1071.5L1406.8,1071.5L1408.8,1071.5L1410.8,1071.4L1412.8,1071.4L1414.8,1071.3L1416.8,1071.2L1418.8,1071.1L1420.8,1071.0L1422.8,1070.9L1424.8,1070.8L1426.8,1070.7L1428.8,1070.5L1430.8,1070.4L1432.8,1070.2L1434.8,1070.0L1436.8,1069.9L1438.8,1069.7L1440.8,1069.4L1442.8,1069.2L1444.8,1069.0L1446.8,1068.8L1448.8,1068.5L1450.8,1068.3L1452.8,1068.0L1454.8,1067.8L1456.8,1067.5L1458.8,1067.2L1460.8,1067.0L1462.8,1066.8L1464.8,1066.6L1466.8,1066.5L1468.8,1066.3L1470.9,1066.3L1472.9,1066.3L1474.9,1066.4L1476.9,1066.5L1478.9,1066.7L1480.9,1067.1L1482.9,1067.5L1484.9,1068.0L1486.9,1068.6L1488.9,1069.3L1490.9,1070.2L1492.9,1071.2L1494.9,1072.3L1496.9,1073.6L1498.9,1075.1L1500.9,1076.6L1502.9,1078.3L1504.9,1079.8L1506.9,1081.3L1508.9,1082.5L1510.9,1083.5L1512.9,1084.2L1514.9,1084.8L1516.9,1085.1L1518.9,1085.3L1520.9,1085.3L1522.9,1085.2L1524.9,1084.9L1526.9,1084.6L1528.9,1084.1L1530.9,1083.6L1532.9,1082.9L1534.9,1082.2L1536.9,1081.4L1538.9,1080.6L1540.9,1079.7L1542.9,1078.7L1544.9,1077.6L1546.9,1076.5L1548.9,1075.2L1550.9,1073.8L1552.9,1072.2L1554.9,1070.5L1556.9,1068.5L1558.9,1066.4L1560.9,1064.1L1562.9,1061.6L1564.9,1058.8L1566.9,1055.7L1568.9,1052.5L1570.9,1049.1L1572.9,1045.7L1574.9,1042.1L1576.9,1038.6L1578.9,1035.1L1580.9,1031.8L1582.9,1028.6L1584.9,1025.6L1586.9,1022.9L1588.9,1020.5L1590.9,1018.6L1592.9,1017.1L1594.9,1016.1L1596.9,1015.7L1599.0,1016.0L1601.0,1016.9L1603.0,1018.6L1605.0,1021.0L1607.0,1023.9L1609.0,1027.3L1611.0,1031.1L1613.0,1035.2L1615.0,1039.4L1617.0,1043.6L1619.0,1047.8L1621.0,1051.9L1623.0,1055.8L1625.0,1059.6L1627.0,1063.1L1629.0,1066.3L1631.0,1069.2L1633.0,1071.9L1635.0,1074.2L1637.0,1076.3L1639.0,1078.2L1641.0,1079.8L1643.0,1081.3L1645.0,1082.5L1647.0,1083.6L1649.0,1084.5L1651.0,1085.3L1653.0,1085.9L1655.0,1086.4L1657.0,1086.9L1659.0,1087.2L1661.0,1087.5" fill="none" stroke="#ff0000" stroke-width="3.2" stroke-linejoin="round" stroke-linecap="butt"/>
<path d="M1020.5,1157.1L1022.5,1157.6L1024.5,1157.9L1026.5,1158.1L1028.5,1158.1L1030.5,1158.0L1032.5,1157.7L1034.5,1157.3L1036.5,1156.8L1038.5,1156.2L1040.5,1155.6L1042.5,1154.8L1044.5,1154.0L1046.5,1153.1L1048.5,1152.2L1050.5,1151.3L1052.5,1150.3L1054.5,1149.3L1056.5,1148.4L1058.5,1147.4L1060.5,1146.5L1062.5,1145.5L1064.5,1144.7L1066.5,1143.9L1068.5,1143.1L1070.5,1142.5L1072.5,1141.9L1074.5,1141.4L1076.5,1141.1L1078.5,1140.8L1080.5,1140.6L1082.5,1140.6L1084.5,1140.7L1086.6,1140.8L1088.6,1141.1L1090.6,1141.6L1092.6,1142.1L1094.6,1142.7L1096.6,1143.5L1098.6,1144.4L1100.6,1145.4L1102.6,1146.6L1104.6,1147.8L1106.6,1149.2L1108.6,1150.5L1110.6,1152.0L1112.6,1153.4L1114.6,1154.8L1116.6,1156.2L1118.6,1157.5L1120.6,1158.7L1122.6,1159.8L1124.6,1160.7L1126.6,1161.5L1128.6,1162.2L1130.6,1162.7L1132.6,1163.2L1134.6,1163.5L1136.6,1163.8L1138.6,1163.9L1140.6,1164.0L1142.6,1164.1L1144.6,1164.1L1146.6,1164.1L1148.6,1164.0L1150.6,1163.9L1152.6,1163.8L1154.6,1163.7L1156.6,1163.6L1158.6,1163.6L1160.6,1163.5L1162.6,1163.5L1164.6,1163.6L1166.6,1163.7L1168.6,1163.9L1170.6,1164.1L1172.6,1164.4L1174.6,1164.7L1176.6,1165.0L1178.6,1165.4L1180.6,1165.7L1182.6,1166.1L1184.6,1166.5L1186.6,1166.8L1188.6,1167.1L1190.6,1167.5L1192.6,1167.7L1194.6,1168.0L1196.6,1168.3L1198.6,1168.5L1200.6,1168.7L1202.6,1168.9L1204.6,1169.0L1206.6,1169.1L1208.6,1169.2L1210.6,1169.3L1212.7,1169.3L1214.7,1169.3L1216.7,1169.2L1218.7,1169.2L1220.7,1169.1L1222.7,1169.0L1224.7,1168.9L1226.7,1168.7L1228.7,1168.6L1230.7,1168.5L1232.7,1168.3L1234.7,1168.2L1236.7,1168.1L1238.7,1167.9L1240.7,1167.8L1242.7,1167.7L1244.7,1167.7L1246.7,1167.6L1248.7,1167.6L1250.7,1167.5L1252.7,1167.6L1254.7,1167.6L1256.7,1167.7L1258.7,1167.7L1260.7,1167.8L1262.7,1167.9L1264.7,1168.0L1266.7,1168.0L1268.7,1168.1L1270.7,1168.1L1272.7,1168.1L1274.7,1168.1L1276.7,1168.0L1278.7,1167.9L1280.7,1167.8L1282.7,1167.6L1284.7,1167.3L1286.7,1167.0L1288.7,1166.6L1290.7,1166.2L1292.7,1165.7L1294.7,1165.1L1296.7,1164.5L1298.7,1163.8L1300.7,1163.1L1302.7,1162.4L1304.7,1161.6L1306.7,1160.9L1308.7,1160.1L1310.7,1159.3L1312.7,1158.5L1314.7,1157.6L1316.7,1156.8L1318.7,1156.1L1320.7,1155.3L1322.7,1154.5L1324.7,1153.8L1326.7,1153.1L1328.7,1152.4L1330.7,1151.8L1332.7,1151.3L1334.7,1150.7L1336.7,1150.2L1338.7,1149.8L1340.8,1149.4L1342.8,1149.0L1344.8,1148.7L1346.8,1148.5L1348.8,1148.3L1350.8,1148.2L1352.8,1148.1L1354.8,1148.0L1356.8,1148.0L1358.8,1148.1L1360.8,1148.2L1362.8,1148.3L1364.8,1148.4L1366.8,1148.6L1368.8,1148.8L1370.8,1148.9L1372.8,1149.1L1374.8,1149.3L1376.8,1149.5L1378.8,1149.7L1380.8,1149.9L1382.8,1150.1L1384.8,1150.3L1386.8,1150.4L1388.8,1150.5L1390.8,1150.6L1392.8,1150.7L1394.8,1150.8L1396.8,1150.9L1398.8,1150.9L1400.8,1151.0L1402.8,1151.0L1404.8,1151.0L1406.8,1151.0L1408.8,1151.0L1410.8,1151.0L1412.8,1151.0L1414.8,1150.9L1416.8,1150.9L1418.8,1150.8L1420.8,1150.7L1422.8,1150.6L1424.8,1150.5L1426.8,1150.4L1428.8,1150.3L1430.8,1150.2L1432.8,1150.1L1434.8,1150.0L1436.8,1149.8L1438.8,1149.7L1440.8,1149.6L1442.8,1149.4L1444.8,1149.3L1446.8,1149.2L1448.8,1149.1L1450.8,1149.0L1452.8,1148.9L1454.8,1148.7L1456.8,1148.7L1458.8,1148.6L1460.8,1148.5L1462.8,1148.5L1464.8,1148.4L1466.8,1148.4L1468.8,1148.5L1470.9,1148.5L1472.9,1148.6L1474.9,1148.7L1476.9,1148.9L1478.9,1149.1L1480.9,1149.3L1482.9,1149.6L1484.9,1149.9L1486.9,1150.3L1488.9,1150.8L1490.9,1151.3L1492.9,1151.9L1494.9,1152.5L1496.9,1153.1L1498.9,1153.8L1500.9,1154.5L1502.9,1155.1L1504.9,1155.8L1506.9,1156.5L1508.9,1157.1L1510.9,1157.7L1512.9,1158.3L1514.9,1158.8L1516.9,1159.2L1518.9,1159.6L1520.9,1159.8L1522.9,1160.0L1524.9,1160.1L1526.9,1160.0L1528.9,1159.8L1530.9,1159.5L1532.9,1159.1L1534.9,1158.4L1536.9,1157.6L1538.9,1156.7L1540.9,1155.5L1542.9,1154.2L1544.9,1152.6L1546.9,1150.9L1548.9,1148.9L1550.9,1146.7L1552.9,1144.2L1554.9,1141.7L1556.9,1139.2L1558.9,1136.7L1560.9,1134.3L1562.9,1132.0L1564.9,1129.8L1566.9,1127.7L1568.9,1125.8L1570.9,1124.0L1572.9,1122.4L1574.9,1121.0L1576.9,1119.7L1578.9,1118.6L1580.9,1117.8L1582.9,1117.1L1584.9,1116.6L1586.9,1116.3L1588.9,1116.2L1590.9,1116.3L1592.9,1116.6L1594.9,1117.2L1596.9,1118.0L1599.0,1119.0L1601.0,1120.2L1603.0,1121.6L1605.0,1123.3L1607.0,1125.2L1609.0,1127.4L1611.0,1129.8L1613.0,1132.3L1615.0,1134.8L1617.0,1137.4L1619.0,1139.9L1621.0,1142.3L1623.0,1144.5L1625.0,1146.7L1627.0,1148.7L1629.0,1150.6L1631.0,1152.2L1633.0,1153.8L1635.0,1155.1L1637.0,1156.4L1639.0,1157.4L1641.0,1158.4L1643.0,1159.3L1645.0,1160.0L1647.0,1160.7L1649.0,1161.3L1651.0,1161.8L1653.0,1162.3L1655.0,1162.8L1657.0,1163.2L1659.0,1163.6L1661.0,1164.0" fill="none" stroke="#000000" stroke-width="3.2" stroke-linejoin="round" stroke-linecap="butt"/>
<line x1="1033" y1="714" x2="1095" y2="714" stroke="#000000" stroke-width="3.5" stroke-linecap="round"/>
<text x="1102.2" y="722.9" font-size="27.5" fill="#000" text-anchor="start">PCZ-1</text>
<line x1="1033" y1="748.8" x2="1095" y2="748.8" stroke="#ff0000" stroke-width="3.1" stroke-linecap="round"/>
<text x="1102.2" y="757.7" font-size="27.5" fill="#000" text-anchor="start">PCZ-2</text>
<line x1="1033" y1="783.6" x2="1095" y2="783.6" stroke="#0000ff" stroke-width="3.1" stroke-linecap="round"/>
<text x="1102.2" y="792.5" font-size="27.5" fill="#000" text-anchor="start">PCZ-3</text>
<line x1="1033" y1="818.4" x2="1095" y2="818.4" stroke="#ff00ff" stroke-width="3.1" stroke-linecap="round"/>
<text x="1102.2" y="827.3" font-size="27.5" fill="#000" text-anchor="start">BM-3</text>
<text x="1042.4" y="860" font-size="27.5" fill="#000000" text-anchor="start">Cu 2p<tspan font-size="17.0" dx="0.2" dy="10.0">1/2</tspan></text>
<text x="1541" y="786.5" font-size="27.7" fill="#000000" text-anchor="start">Cu 2p<tspan font-size="17.0" dx="0.2" dy="10.0">3/2</tspan></text>
<text x="1050.6" y="892.3" font-size="27.7" fill="#008000" text-anchor="start">952.95</text>
<text x="1554.5" y="818.7" font-size="27.8" fill="#008000" text-anchor="start">933.0</text>
<text x="1082.7" y="993.2" font-size="27.5" fill="#0000ff" text-anchor="start">952.62</text>
<text x="1589.5" y="993.2" font-size="27.5" fill="#0000ff" text-anchor="start">932.85</text>
<text x="1080.6" y="1051.7" font-size="27.5" fill="#ff0000" text-anchor="start">952.50</text>
<text x="1604.3" y="1025.3" font-size="27.5" fill="#ff0000" text-anchor="start">932.43</text>
<text x="1080.7" y="1133.4" font-size="27.2" fill="#000000" text-anchor="start">952.81</text>
<text x="1585.3" y="1110.9" font-size="27.5" fill="#000000" text-anchor="start">932.89</text>
</g>
</svg>
</body>
</html>
